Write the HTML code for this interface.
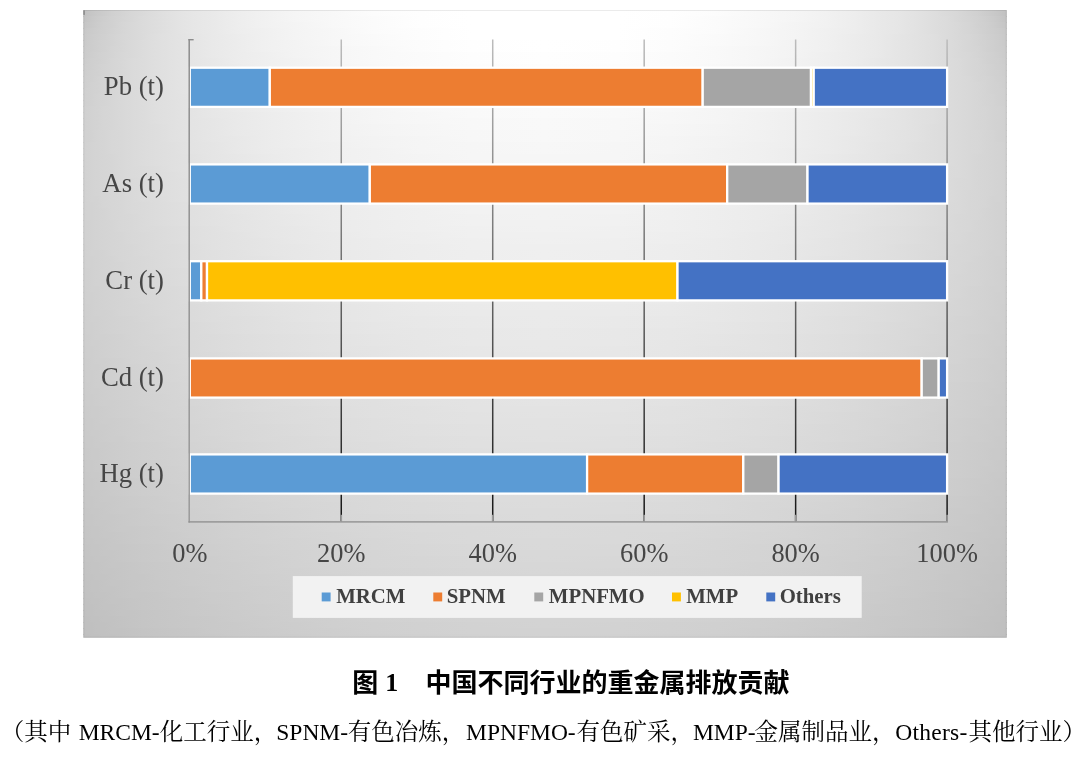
<!DOCTYPE html>
<html lang="zh"><head><meta charset="utf-8"><title>图1 中国不同行业的重金属排放贡献</title>
<style>
html,body{margin:0;padding:0;background:#fff;}
body{width:1080px;height:782px;overflow:hidden;position:relative;}
svg{position:absolute;left:0;top:0;display:block;}
.ser{font-family:"Liberation Serif","Noto Serif CJK SC",serif;}
.cat{font-size:26.7px;fill:#464646;text-anchor:end;}
.tick{font-size:26.4px;fill:#464646;text-anchor:middle;}
.leg{font-size:20.8px;font-weight:bold;fill:#404040;}
.ttl{position:absolute;white-space:nowrap;color:#000;}
#wrap{position:absolute;left:0;top:0;width:1080px;height:782px;will-change:transform;}
</style></head><body><div id="wrap">
<svg width="1080" height="782" viewBox="0 0 1080 782">
<defs>
<linearGradient id="b0" gradientUnits="userSpaceOnUse" x1="83.3" y1="0" x2="545.05" y2="0" spreadMethod="reflect"><stop offset="0" stop-color="#c1c1c1"/><stop offset="0.008" stop-color="#c3c3c3"/><stop offset="0.018" stop-color="#c6c6c6"/><stop offset="0.03" stop-color="#c9c9c9"/><stop offset="0.045" stop-color="#cccccc"/><stop offset="0.062" stop-color="#d0d0d0"/><stop offset="0.082" stop-color="#d3d3d3"/><stop offset="0.105" stop-color="#d7d7d7"/><stop offset="0.13" stop-color="#dadada"/><stop offset="0.16" stop-color="#dedede"/><stop offset="0.195" stop-color="#e2e2e2"/><stop offset="0.235" stop-color="#e6e6e6"/><stop offset="0.28" stop-color="#e9e9e9"/><stop offset="0.33" stop-color="#ededed"/><stop offset="0.39" stop-color="#f1f1f1"/><stop offset="0.46" stop-color="#f5f5f5"/><stop offset="0.54" stop-color="#f8f8f8"/><stop offset="0.63" stop-color="#fcfcfc"/><stop offset="0.73" stop-color="#fefefe"/><stop offset="0.84" stop-color="#ffffff"/><stop offset="1" stop-color="#ffffff"/></linearGradient>
<linearGradient id="b1" gradientUnits="userSpaceOnUse" x1="83.3" y1="0" x2="545.05" y2="0" spreadMethod="reflect"><stop offset="0" stop-color="#c3c3c3"/><stop offset="0.008" stop-color="#c5c5c5"/><stop offset="0.018" stop-color="#c8c8c8"/><stop offset="0.03" stop-color="#cbcbcb"/><stop offset="0.045" stop-color="#cecece"/><stop offset="0.062" stop-color="#d1d1d1"/><stop offset="0.082" stop-color="#d4d4d4"/><stop offset="0.105" stop-color="#d7d7d7"/><stop offset="0.13" stop-color="#dbdbdb"/><stop offset="0.16" stop-color="#dedede"/><stop offset="0.195" stop-color="#e2e2e2"/><stop offset="0.235" stop-color="#e6e6e6"/><stop offset="0.28" stop-color="#e9e9e9"/><stop offset="0.33" stop-color="#ededed"/><stop offset="0.39" stop-color="#f1f1f1"/><stop offset="0.46" stop-color="#f5f5f5"/><stop offset="0.54" stop-color="#f8f8f8"/><stop offset="0.63" stop-color="#fbfbfb"/><stop offset="0.73" stop-color="#fefefe"/><stop offset="0.84" stop-color="#ffffff"/><stop offset="1" stop-color="#ffffff"/></linearGradient>
<linearGradient id="b2" gradientUnits="userSpaceOnUse" x1="83.3" y1="0" x2="545.05" y2="0" spreadMethod="reflect"><stop offset="0" stop-color="#c5c5c5"/><stop offset="0.008" stop-color="#c7c7c7"/><stop offset="0.018" stop-color="#c9c9c9"/><stop offset="0.03" stop-color="#cccccc"/><stop offset="0.045" stop-color="#cfcfcf"/><stop offset="0.062" stop-color="#d1d1d1"/><stop offset="0.082" stop-color="#d5d5d5"/><stop offset="0.105" stop-color="#d8d8d8"/><stop offset="0.13" stop-color="#dbdbdb"/><stop offset="0.16" stop-color="#dedede"/><stop offset="0.195" stop-color="#e2e2e2"/><stop offset="0.235" stop-color="#e6e6e6"/><stop offset="0.28" stop-color="#e9e9e9"/><stop offset="0.33" stop-color="#ededed"/><stop offset="0.39" stop-color="#f1f1f1"/><stop offset="0.46" stop-color="#f4f4f4"/><stop offset="0.54" stop-color="#f8f8f8"/><stop offset="0.63" stop-color="#fbfbfb"/><stop offset="0.73" stop-color="#fefefe"/><stop offset="0.84" stop-color="#ffffff"/><stop offset="1" stop-color="#ffffff"/></linearGradient>
<linearGradient id="b3" gradientUnits="userSpaceOnUse" x1="83.3" y1="0" x2="545.05" y2="0" spreadMethod="reflect"><stop offset="0" stop-color="#c7c7c7"/><stop offset="0.008" stop-color="#c9c9c9"/><stop offset="0.018" stop-color="#cbcbcb"/><stop offset="0.03" stop-color="#cdcdcd"/><stop offset="0.045" stop-color="#cfcfcf"/><stop offset="0.062" stop-color="#d2d2d2"/><stop offset="0.082" stop-color="#d5d5d5"/><stop offset="0.105" stop-color="#d8d8d8"/><stop offset="0.13" stop-color="#dbdbdb"/><stop offset="0.16" stop-color="#dedede"/><stop offset="0.195" stop-color="#e2e2e2"/><stop offset="0.235" stop-color="#e6e6e6"/><stop offset="0.28" stop-color="#e9e9e9"/><stop offset="0.33" stop-color="#ededed"/><stop offset="0.39" stop-color="#f0f0f0"/><stop offset="0.46" stop-color="#f4f4f4"/><stop offset="0.54" stop-color="#f7f7f7"/><stop offset="0.63" stop-color="#fbfbfb"/><stop offset="0.73" stop-color="#fdfdfd"/><stop offset="0.84" stop-color="#ffffff"/><stop offset="1" stop-color="#ffffff"/></linearGradient>
<linearGradient id="b4" gradientUnits="userSpaceOnUse" x1="83.3" y1="0" x2="545.05" y2="0" spreadMethod="reflect"><stop offset="0" stop-color="#c8c8c8"/><stop offset="0.008" stop-color="#cacaca"/><stop offset="0.018" stop-color="#cccccc"/><stop offset="0.03" stop-color="#cecece"/><stop offset="0.045" stop-color="#d0d0d0"/><stop offset="0.062" stop-color="#d3d3d3"/><stop offset="0.082" stop-color="#d6d6d6"/><stop offset="0.105" stop-color="#d8d8d8"/><stop offset="0.13" stop-color="#dbdbdb"/><stop offset="0.16" stop-color="#dfdfdf"/><stop offset="0.195" stop-color="#e2e2e2"/><stop offset="0.235" stop-color="#e5e5e5"/><stop offset="0.28" stop-color="#e9e9e9"/><stop offset="0.33" stop-color="#ececec"/><stop offset="0.39" stop-color="#f0f0f0"/><stop offset="0.46" stop-color="#f4f4f4"/><stop offset="0.54" stop-color="#f7f7f7"/><stop offset="0.63" stop-color="#fafafa"/><stop offset="0.73" stop-color="#fdfdfd"/><stop offset="0.84" stop-color="#ffffff"/><stop offset="1" stop-color="#ffffff"/></linearGradient>
<linearGradient id="b5" gradientUnits="userSpaceOnUse" x1="83.3" y1="0" x2="545.05" y2="0" spreadMethod="reflect"><stop offset="0" stop-color="#c9c9c9"/><stop offset="0.008" stop-color="#cbcbcb"/><stop offset="0.018" stop-color="#cdcdcd"/><stop offset="0.03" stop-color="#cfcfcf"/><stop offset="0.045" stop-color="#d1d1d1"/><stop offset="0.062" stop-color="#d3d3d3"/><stop offset="0.082" stop-color="#d6d6d6"/><stop offset="0.105" stop-color="#d9d9d9"/><stop offset="0.13" stop-color="#dcdcdc"/><stop offset="0.16" stop-color="#dfdfdf"/><stop offset="0.195" stop-color="#e2e2e2"/><stop offset="0.235" stop-color="#e5e5e5"/><stop offset="0.28" stop-color="#e9e9e9"/><stop offset="0.33" stop-color="#ececec"/><stop offset="0.39" stop-color="#f0f0f0"/><stop offset="0.46" stop-color="#f3f3f3"/><stop offset="0.54" stop-color="#f7f7f7"/><stop offset="0.63" stop-color="#fafafa"/><stop offset="0.73" stop-color="#fcfcfc"/><stop offset="0.84" stop-color="#fefefe"/><stop offset="1" stop-color="#ffffff"/></linearGradient>
<linearGradient id="b6" gradientUnits="userSpaceOnUse" x1="83.3" y1="0" x2="545.05" y2="0" spreadMethod="reflect"><stop offset="0" stop-color="#cacaca"/><stop offset="0.008" stop-color="#cccccc"/><stop offset="0.018" stop-color="#cdcdcd"/><stop offset="0.03" stop-color="#cfcfcf"/><stop offset="0.045" stop-color="#d1d1d1"/><stop offset="0.062" stop-color="#d4d4d4"/><stop offset="0.082" stop-color="#d6d6d6"/><stop offset="0.105" stop-color="#d9d9d9"/><stop offset="0.13" stop-color="#dcdcdc"/><stop offset="0.16" stop-color="#dfdfdf"/><stop offset="0.195" stop-color="#e2e2e2"/><stop offset="0.235" stop-color="#e5e5e5"/><stop offset="0.28" stop-color="#e9e9e9"/><stop offset="0.33" stop-color="#ececec"/><stop offset="0.39" stop-color="#f0f0f0"/><stop offset="0.46" stop-color="#f3f3f3"/><stop offset="0.54" stop-color="#f6f6f6"/><stop offset="0.63" stop-color="#f9f9f9"/><stop offset="0.73" stop-color="#fcfcfc"/><stop offset="0.84" stop-color="#fefefe"/><stop offset="1" stop-color="#ffffff"/></linearGradient>
<linearGradient id="b7" gradientUnits="userSpaceOnUse" x1="83.3" y1="0" x2="545.05" y2="0" spreadMethod="reflect"><stop offset="0" stop-color="#cbcbcb"/><stop offset="0.008" stop-color="#cccccc"/><stop offset="0.018" stop-color="#cecece"/><stop offset="0.03" stop-color="#d0d0d0"/><stop offset="0.045" stop-color="#d2d2d2"/><stop offset="0.062" stop-color="#d4d4d4"/><stop offset="0.082" stop-color="#d7d7d7"/><stop offset="0.105" stop-color="#d9d9d9"/><stop offset="0.13" stop-color="#dcdcdc"/><stop offset="0.16" stop-color="#dfdfdf"/><stop offset="0.195" stop-color="#e2e2e2"/><stop offset="0.235" stop-color="#e5e5e5"/><stop offset="0.28" stop-color="#e9e9e9"/><stop offset="0.33" stop-color="#ececec"/><stop offset="0.39" stop-color="#efefef"/><stop offset="0.46" stop-color="#f3f3f3"/><stop offset="0.54" stop-color="#f6f6f6"/><stop offset="0.63" stop-color="#f9f9f9"/><stop offset="0.73" stop-color="#fbfbfb"/><stop offset="0.84" stop-color="#fdfdfd"/><stop offset="1" stop-color="#fefefe"/></linearGradient>
<linearGradient id="b8" gradientUnits="userSpaceOnUse" x1="83.3" y1="0" x2="545.05" y2="0" spreadMethod="reflect"><stop offset="0" stop-color="#cccccc"/><stop offset="0.008" stop-color="#cdcdcd"/><stop offset="0.018" stop-color="#cfcfcf"/><stop offset="0.03" stop-color="#d0d0d0"/><stop offset="0.045" stop-color="#d2d2d2"/><stop offset="0.062" stop-color="#d5d5d5"/><stop offset="0.082" stop-color="#d7d7d7"/><stop offset="0.105" stop-color="#dadada"/><stop offset="0.13" stop-color="#dcdcdc"/><stop offset="0.16" stop-color="#dfdfdf"/><stop offset="0.195" stop-color="#e2e2e2"/><stop offset="0.235" stop-color="#e5e5e5"/><stop offset="0.28" stop-color="#e8e8e8"/><stop offset="0.33" stop-color="#ececec"/><stop offset="0.39" stop-color="#efefef"/><stop offset="0.46" stop-color="#f2f2f2"/><stop offset="0.54" stop-color="#f6f6f6"/><stop offset="0.63" stop-color="#f9f9f9"/><stop offset="0.73" stop-color="#fbfbfb"/><stop offset="0.84" stop-color="#fdfdfd"/><stop offset="1" stop-color="#fefefe"/></linearGradient>
<linearGradient id="b9" gradientUnits="userSpaceOnUse" x1="83.3" y1="0" x2="545.05" y2="0" spreadMethod="reflect"><stop offset="0" stop-color="#cdcdcd"/><stop offset="0.008" stop-color="#cecece"/><stop offset="0.018" stop-color="#cfcfcf"/><stop offset="0.03" stop-color="#d1d1d1"/><stop offset="0.045" stop-color="#d3d3d3"/><stop offset="0.062" stop-color="#d5d5d5"/><stop offset="0.082" stop-color="#d7d7d7"/><stop offset="0.105" stop-color="#dadada"/><stop offset="0.13" stop-color="#dcdcdc"/><stop offset="0.16" stop-color="#dfdfdf"/><stop offset="0.195" stop-color="#e2e2e2"/><stop offset="0.235" stop-color="#e5e5e5"/><stop offset="0.28" stop-color="#e8e8e8"/><stop offset="0.33" stop-color="#ebebeb"/><stop offset="0.39" stop-color="#efefef"/><stop offset="0.46" stop-color="#f2f2f2"/><stop offset="0.54" stop-color="#f5f5f5"/><stop offset="0.63" stop-color="#f8f8f8"/><stop offset="0.73" stop-color="#fbfbfb"/><stop offset="0.84" stop-color="#fcfcfc"/><stop offset="1" stop-color="#fdfdfd"/></linearGradient>
<linearGradient id="b10" gradientUnits="userSpaceOnUse" x1="83.3" y1="0" x2="545.05" y2="0" spreadMethod="reflect"><stop offset="0" stop-color="#cdcdcd"/><stop offset="0.008" stop-color="#cecece"/><stop offset="0.018" stop-color="#d0d0d0"/><stop offset="0.03" stop-color="#d1d1d1"/><stop offset="0.045" stop-color="#d3d3d3"/><stop offset="0.062" stop-color="#d5d5d5"/><stop offset="0.082" stop-color="#d7d7d7"/><stop offset="0.105" stop-color="#dadada"/><stop offset="0.13" stop-color="#dcdcdc"/><stop offset="0.16" stop-color="#dfdfdf"/><stop offset="0.195" stop-color="#e2e2e2"/><stop offset="0.235" stop-color="#e5e5e5"/><stop offset="0.28" stop-color="#e8e8e8"/><stop offset="0.33" stop-color="#ebebeb"/><stop offset="0.39" stop-color="#eeeeee"/><stop offset="0.46" stop-color="#f2f2f2"/><stop offset="0.54" stop-color="#f5f5f5"/><stop offset="0.63" stop-color="#f8f8f8"/><stop offset="0.73" stop-color="#fafafa"/><stop offset="0.84" stop-color="#fcfcfc"/><stop offset="1" stop-color="#fdfdfd"/></linearGradient>
<linearGradient id="b11" gradientUnits="userSpaceOnUse" x1="83.3" y1="0" x2="545.05" y2="0" spreadMethod="reflect"><stop offset="0" stop-color="#cecece"/><stop offset="0.008" stop-color="#cfcfcf"/><stop offset="0.018" stop-color="#d0d0d0"/><stop offset="0.03" stop-color="#d2d2d2"/><stop offset="0.045" stop-color="#d4d4d4"/><stop offset="0.062" stop-color="#d5d5d5"/><stop offset="0.082" stop-color="#d8d8d8"/><stop offset="0.105" stop-color="#dadada"/><stop offset="0.13" stop-color="#dcdcdc"/><stop offset="0.16" stop-color="#dfdfdf"/><stop offset="0.195" stop-color="#e2e2e2"/><stop offset="0.235" stop-color="#e5e5e5"/><stop offset="0.28" stop-color="#e8e8e8"/><stop offset="0.33" stop-color="#ebebeb"/><stop offset="0.39" stop-color="#eeeeee"/><stop offset="0.46" stop-color="#f1f1f1"/><stop offset="0.54" stop-color="#f5f5f5"/><stop offset="0.63" stop-color="#f7f7f7"/><stop offset="0.73" stop-color="#fafafa"/><stop offset="0.84" stop-color="#fbfbfb"/><stop offset="1" stop-color="#fcfcfc"/></linearGradient>
<linearGradient id="b12" gradientUnits="userSpaceOnUse" x1="83.3" y1="0" x2="545.05" y2="0" spreadMethod="reflect"><stop offset="0" stop-color="#cecece"/><stop offset="0.008" stop-color="#cfcfcf"/><stop offset="0.018" stop-color="#d1d1d1"/><stop offset="0.03" stop-color="#d2d2d2"/><stop offset="0.045" stop-color="#d4d4d4"/><stop offset="0.062" stop-color="#d6d6d6"/><stop offset="0.082" stop-color="#d8d8d8"/><stop offset="0.105" stop-color="#dadada"/><stop offset="0.13" stop-color="#dcdcdc"/><stop offset="0.16" stop-color="#dfdfdf"/><stop offset="0.195" stop-color="#e2e2e2"/><stop offset="0.235" stop-color="#e5e5e5"/><stop offset="0.28" stop-color="#e8e8e8"/><stop offset="0.33" stop-color="#ebebeb"/><stop offset="0.39" stop-color="#eeeeee"/><stop offset="0.46" stop-color="#f1f1f1"/><stop offset="0.54" stop-color="#f4f4f4"/><stop offset="0.63" stop-color="#f7f7f7"/><stop offset="0.73" stop-color="#f9f9f9"/><stop offset="0.84" stop-color="#fbfbfb"/><stop offset="1" stop-color="#fcfcfc"/></linearGradient>
<linearGradient id="b13" gradientUnits="userSpaceOnUse" x1="83.3" y1="0" x2="545.05" y2="0" spreadMethod="reflect"><stop offset="0" stop-color="#cfcfcf"/><stop offset="0.008" stop-color="#d0d0d0"/><stop offset="0.018" stop-color="#d1d1d1"/><stop offset="0.03" stop-color="#d2d2d2"/><stop offset="0.045" stop-color="#d4d4d4"/><stop offset="0.062" stop-color="#d6d6d6"/><stop offset="0.082" stop-color="#d8d8d8"/><stop offset="0.105" stop-color="#dadada"/><stop offset="0.13" stop-color="#dcdcdc"/><stop offset="0.16" stop-color="#dfdfdf"/><stop offset="0.195" stop-color="#e2e2e2"/><stop offset="0.235" stop-color="#e5e5e5"/><stop offset="0.28" stop-color="#e8e8e8"/><stop offset="0.33" stop-color="#eaeaea"/><stop offset="0.39" stop-color="#eeeeee"/><stop offset="0.46" stop-color="#f1f1f1"/><stop offset="0.54" stop-color="#f4f4f4"/><stop offset="0.63" stop-color="#f7f7f7"/><stop offset="0.73" stop-color="#f9f9f9"/><stop offset="0.84" stop-color="#fbfbfb"/><stop offset="1" stop-color="#fbfbfb"/></linearGradient>
<linearGradient id="b14" gradientUnits="userSpaceOnUse" x1="83.3" y1="0" x2="545.05" y2="0" spreadMethod="reflect"><stop offset="0" stop-color="#cfcfcf"/><stop offset="0.008" stop-color="#d0d0d0"/><stop offset="0.018" stop-color="#d1d1d1"/><stop offset="0.03" stop-color="#d3d3d3"/><stop offset="0.045" stop-color="#d4d4d4"/><stop offset="0.062" stop-color="#d6d6d6"/><stop offset="0.082" stop-color="#d8d8d8"/><stop offset="0.105" stop-color="#dadada"/><stop offset="0.13" stop-color="#dcdcdc"/><stop offset="0.16" stop-color="#dfdfdf"/><stop offset="0.195" stop-color="#e2e2e2"/><stop offset="0.235" stop-color="#e4e4e4"/><stop offset="0.28" stop-color="#e7e7e7"/><stop offset="0.33" stop-color="#eaeaea"/><stop offset="0.39" stop-color="#ededed"/><stop offset="0.46" stop-color="#f0f0f0"/><stop offset="0.54" stop-color="#f3f3f3"/><stop offset="0.63" stop-color="#f6f6f6"/><stop offset="0.73" stop-color="#f8f8f8"/><stop offset="0.84" stop-color="#fafafa"/><stop offset="1" stop-color="#fbfbfb"/></linearGradient>
<linearGradient id="b15" gradientUnits="userSpaceOnUse" x1="83.3" y1="0" x2="545.05" y2="0" spreadMethod="reflect"><stop offset="0" stop-color="#cfcfcf"/><stop offset="0.008" stop-color="#d0d0d0"/><stop offset="0.018" stop-color="#d1d1d1"/><stop offset="0.03" stop-color="#d3d3d3"/><stop offset="0.045" stop-color="#d4d4d4"/><stop offset="0.062" stop-color="#d6d6d6"/><stop offset="0.082" stop-color="#d8d8d8"/><stop offset="0.105" stop-color="#dadada"/><stop offset="0.13" stop-color="#dcdcdc"/><stop offset="0.16" stop-color="#dfdfdf"/><stop offset="0.195" stop-color="#e1e1e1"/><stop offset="0.235" stop-color="#e4e4e4"/><stop offset="0.28" stop-color="#e7e7e7"/><stop offset="0.33" stop-color="#eaeaea"/><stop offset="0.39" stop-color="#ededed"/><stop offset="0.46" stop-color="#f0f0f0"/><stop offset="0.54" stop-color="#f3f3f3"/><stop offset="0.63" stop-color="#f6f6f6"/><stop offset="0.73" stop-color="#f8f8f8"/><stop offset="0.84" stop-color="#fafafa"/><stop offset="1" stop-color="#fafafa"/></linearGradient>
<linearGradient id="b16" gradientUnits="userSpaceOnUse" x1="83.3" y1="0" x2="545.05" y2="0" spreadMethod="reflect"><stop offset="0" stop-color="#d0d0d0"/><stop offset="0.008" stop-color="#d1d1d1"/><stop offset="0.018" stop-color="#d2d2d2"/><stop offset="0.03" stop-color="#d3d3d3"/><stop offset="0.045" stop-color="#d5d5d5"/><stop offset="0.062" stop-color="#d6d6d6"/><stop offset="0.082" stop-color="#d8d8d8"/><stop offset="0.105" stop-color="#dadada"/><stop offset="0.13" stop-color="#dcdcdc"/><stop offset="0.16" stop-color="#dfdfdf"/><stop offset="0.195" stop-color="#e1e1e1"/><stop offset="0.235" stop-color="#e4e4e4"/><stop offset="0.28" stop-color="#e7e7e7"/><stop offset="0.33" stop-color="#eaeaea"/><stop offset="0.39" stop-color="#ededed"/><stop offset="0.46" stop-color="#f0f0f0"/><stop offset="0.54" stop-color="#f3f3f3"/><stop offset="0.63" stop-color="#f5f5f5"/><stop offset="0.73" stop-color="#f8f8f8"/><stop offset="0.84" stop-color="#f9f9f9"/><stop offset="1" stop-color="#fafafa"/></linearGradient>
<linearGradient id="b17" gradientUnits="userSpaceOnUse" x1="83.3" y1="0" x2="545.05" y2="0" spreadMethod="reflect"><stop offset="0" stop-color="#d0d0d0"/><stop offset="0.008" stop-color="#d1d1d1"/><stop offset="0.018" stop-color="#d2d2d2"/><stop offset="0.03" stop-color="#d3d3d3"/><stop offset="0.045" stop-color="#d5d5d5"/><stop offset="0.062" stop-color="#d6d6d6"/><stop offset="0.082" stop-color="#d8d8d8"/><stop offset="0.105" stop-color="#dadada"/><stop offset="0.13" stop-color="#dcdcdc"/><stop offset="0.16" stop-color="#dfdfdf"/><stop offset="0.195" stop-color="#e1e1e1"/><stop offset="0.235" stop-color="#e4e4e4"/><stop offset="0.28" stop-color="#e7e7e7"/><stop offset="0.33" stop-color="#e9e9e9"/><stop offset="0.39" stop-color="#ececec"/><stop offset="0.46" stop-color="#efefef"/><stop offset="0.54" stop-color="#f2f2f2"/><stop offset="0.63" stop-color="#f5f5f5"/><stop offset="0.73" stop-color="#f7f7f7"/><stop offset="0.84" stop-color="#f9f9f9"/><stop offset="1" stop-color="#fafafa"/></linearGradient>
<linearGradient id="b18" gradientUnits="userSpaceOnUse" x1="83.3" y1="0" x2="545.05" y2="0" spreadMethod="reflect"><stop offset="0" stop-color="#d0d0d0"/><stop offset="0.008" stop-color="#d1d1d1"/><stop offset="0.018" stop-color="#d2d2d2"/><stop offset="0.03" stop-color="#d3d3d3"/><stop offset="0.045" stop-color="#d5d5d5"/><stop offset="0.062" stop-color="#d6d6d6"/><stop offset="0.082" stop-color="#d8d8d8"/><stop offset="0.105" stop-color="#dadada"/><stop offset="0.13" stop-color="#dcdcdc"/><stop offset="0.16" stop-color="#dfdfdf"/><stop offset="0.195" stop-color="#e1e1e1"/><stop offset="0.235" stop-color="#e4e4e4"/><stop offset="0.28" stop-color="#e6e6e6"/><stop offset="0.33" stop-color="#e9e9e9"/><stop offset="0.39" stop-color="#ececec"/><stop offset="0.46" stop-color="#efefef"/><stop offset="0.54" stop-color="#f2f2f2"/><stop offset="0.63" stop-color="#f5f5f5"/><stop offset="0.73" stop-color="#f7f7f7"/><stop offset="0.84" stop-color="#f8f8f8"/><stop offset="1" stop-color="#f9f9f9"/></linearGradient>
<linearGradient id="b19" gradientUnits="userSpaceOnUse" x1="83.3" y1="0" x2="545.05" y2="0" spreadMethod="reflect"><stop offset="0" stop-color="#d0d0d0"/><stop offset="0.008" stop-color="#d1d1d1"/><stop offset="0.018" stop-color="#d2d2d2"/><stop offset="0.03" stop-color="#d3d3d3"/><stop offset="0.045" stop-color="#d5d5d5"/><stop offset="0.062" stop-color="#d6d6d6"/><stop offset="0.082" stop-color="#d8d8d8"/><stop offset="0.105" stop-color="#dadada"/><stop offset="0.13" stop-color="#dcdcdc"/><stop offset="0.16" stop-color="#dedede"/><stop offset="0.195" stop-color="#e1e1e1"/><stop offset="0.235" stop-color="#e4e4e4"/><stop offset="0.28" stop-color="#e6e6e6"/><stop offset="0.33" stop-color="#e9e9e9"/><stop offset="0.39" stop-color="#ececec"/><stop offset="0.46" stop-color="#efefef"/><stop offset="0.54" stop-color="#f2f2f2"/><stop offset="0.63" stop-color="#f4f4f4"/><stop offset="0.73" stop-color="#f6f6f6"/><stop offset="0.84" stop-color="#f8f8f8"/><stop offset="1" stop-color="#f9f9f9"/></linearGradient>
<linearGradient id="b20" gradientUnits="userSpaceOnUse" x1="83.3" y1="0" x2="545.05" y2="0" spreadMethod="reflect"><stop offset="0" stop-color="#d1d1d1"/><stop offset="0.008" stop-color="#d1d1d1"/><stop offset="0.018" stop-color="#d2d2d2"/><stop offset="0.03" stop-color="#d4d4d4"/><stop offset="0.045" stop-color="#d5d5d5"/><stop offset="0.062" stop-color="#d7d7d7"/><stop offset="0.082" stop-color="#d8d8d8"/><stop offset="0.105" stop-color="#dadada"/><stop offset="0.13" stop-color="#dcdcdc"/><stop offset="0.16" stop-color="#dedede"/><stop offset="0.195" stop-color="#e1e1e1"/><stop offset="0.235" stop-color="#e3e3e3"/><stop offset="0.28" stop-color="#e6e6e6"/><stop offset="0.33" stop-color="#e9e9e9"/><stop offset="0.39" stop-color="#ebebeb"/><stop offset="0.46" stop-color="#eeeeee"/><stop offset="0.54" stop-color="#f1f1f1"/><stop offset="0.63" stop-color="#f4f4f4"/><stop offset="0.73" stop-color="#f6f6f6"/><stop offset="0.84" stop-color="#f7f7f7"/><stop offset="1" stop-color="#f8f8f8"/></linearGradient>
<linearGradient id="b21" gradientUnits="userSpaceOnUse" x1="83.3" y1="0" x2="545.05" y2="0" spreadMethod="reflect"><stop offset="0" stop-color="#d1d1d1"/><stop offset="0.008" stop-color="#d1d1d1"/><stop offset="0.018" stop-color="#d2d2d2"/><stop offset="0.03" stop-color="#d4d4d4"/><stop offset="0.045" stop-color="#d5d5d5"/><stop offset="0.062" stop-color="#d7d7d7"/><stop offset="0.082" stop-color="#d8d8d8"/><stop offset="0.105" stop-color="#dadada"/><stop offset="0.13" stop-color="#dcdcdc"/><stop offset="0.16" stop-color="#dedede"/><stop offset="0.195" stop-color="#e1e1e1"/><stop offset="0.235" stop-color="#e3e3e3"/><stop offset="0.28" stop-color="#e6e6e6"/><stop offset="0.33" stop-color="#e8e8e8"/><stop offset="0.39" stop-color="#ebebeb"/><stop offset="0.46" stop-color="#eeeeee"/><stop offset="0.54" stop-color="#f1f1f1"/><stop offset="0.63" stop-color="#f3f3f3"/><stop offset="0.73" stop-color="#f5f5f5"/><stop offset="0.84" stop-color="#f7f7f7"/><stop offset="1" stop-color="#f8f8f8"/></linearGradient>
<linearGradient id="b22" gradientUnits="userSpaceOnUse" x1="83.3" y1="0" x2="545.05" y2="0" spreadMethod="reflect"><stop offset="0" stop-color="#d1d1d1"/><stop offset="0.008" stop-color="#d2d2d2"/><stop offset="0.018" stop-color="#d3d3d3"/><stop offset="0.03" stop-color="#d4d4d4"/><stop offset="0.045" stop-color="#d5d5d5"/><stop offset="0.062" stop-color="#d7d7d7"/><stop offset="0.082" stop-color="#d8d8d8"/><stop offset="0.105" stop-color="#dadada"/><stop offset="0.13" stop-color="#dcdcdc"/><stop offset="0.16" stop-color="#dedede"/><stop offset="0.195" stop-color="#e0e0e0"/><stop offset="0.235" stop-color="#e3e3e3"/><stop offset="0.28" stop-color="#e5e5e5"/><stop offset="0.33" stop-color="#e8e8e8"/><stop offset="0.39" stop-color="#ebebeb"/><stop offset="0.46" stop-color="#eeeeee"/><stop offset="0.54" stop-color="#f0f0f0"/><stop offset="0.63" stop-color="#f3f3f3"/><stop offset="0.73" stop-color="#f5f5f5"/><stop offset="0.84" stop-color="#f6f6f6"/><stop offset="1" stop-color="#f7f7f7"/></linearGradient>
<linearGradient id="b23" gradientUnits="userSpaceOnUse" x1="83.3" y1="0" x2="545.05" y2="0" spreadMethod="reflect"><stop offset="0" stop-color="#d1d1d1"/><stop offset="0.008" stop-color="#d2d2d2"/><stop offset="0.018" stop-color="#d3d3d3"/><stop offset="0.03" stop-color="#d4d4d4"/><stop offset="0.045" stop-color="#d5d5d5"/><stop offset="0.062" stop-color="#d7d7d7"/><stop offset="0.082" stop-color="#d8d8d8"/><stop offset="0.105" stop-color="#dadada"/><stop offset="0.13" stop-color="#dcdcdc"/><stop offset="0.16" stop-color="#dedede"/><stop offset="0.195" stop-color="#e0e0e0"/><stop offset="0.235" stop-color="#e3e3e3"/><stop offset="0.28" stop-color="#e5e5e5"/><stop offset="0.33" stop-color="#e8e8e8"/><stop offset="0.39" stop-color="#ebebeb"/><stop offset="0.46" stop-color="#ededed"/><stop offset="0.54" stop-color="#f0f0f0"/><stop offset="0.63" stop-color="#f2f2f2"/><stop offset="0.73" stop-color="#f5f5f5"/><stop offset="0.84" stop-color="#f6f6f6"/><stop offset="1" stop-color="#f7f7f7"/></linearGradient>
<linearGradient id="b24" gradientUnits="userSpaceOnUse" x1="83.3" y1="0" x2="545.05" y2="0" spreadMethod="reflect"><stop offset="0" stop-color="#d1d1d1"/><stop offset="0.008" stop-color="#d2d2d2"/><stop offset="0.018" stop-color="#d3d3d3"/><stop offset="0.03" stop-color="#d4d4d4"/><stop offset="0.045" stop-color="#d5d5d5"/><stop offset="0.062" stop-color="#d6d6d6"/><stop offset="0.082" stop-color="#d8d8d8"/><stop offset="0.105" stop-color="#dadada"/><stop offset="0.13" stop-color="#dcdcdc"/><stop offset="0.16" stop-color="#dedede"/><stop offset="0.195" stop-color="#e0e0e0"/><stop offset="0.235" stop-color="#e2e2e2"/><stop offset="0.28" stop-color="#e5e5e5"/><stop offset="0.33" stop-color="#e7e7e7"/><stop offset="0.39" stop-color="#eaeaea"/><stop offset="0.46" stop-color="#ededed"/><stop offset="0.54" stop-color="#f0f0f0"/><stop offset="0.63" stop-color="#f2f2f2"/><stop offset="0.73" stop-color="#f4f4f4"/><stop offset="0.84" stop-color="#f6f6f6"/><stop offset="1" stop-color="#f6f6f6"/></linearGradient>
<linearGradient id="b25" gradientUnits="userSpaceOnUse" x1="83.3" y1="0" x2="545.05" y2="0" spreadMethod="reflect"><stop offset="0" stop-color="#d1d1d1"/><stop offset="0.008" stop-color="#d2d2d2"/><stop offset="0.018" stop-color="#d3d3d3"/><stop offset="0.03" stop-color="#d4d4d4"/><stop offset="0.045" stop-color="#d5d5d5"/><stop offset="0.062" stop-color="#d6d6d6"/><stop offset="0.082" stop-color="#d8d8d8"/><stop offset="0.105" stop-color="#dadada"/><stop offset="0.13" stop-color="#dcdcdc"/><stop offset="0.16" stop-color="#dedede"/><stop offset="0.195" stop-color="#e0e0e0"/><stop offset="0.235" stop-color="#e2e2e2"/><stop offset="0.28" stop-color="#e5e5e5"/><stop offset="0.33" stop-color="#e7e7e7"/><stop offset="0.39" stop-color="#eaeaea"/><stop offset="0.46" stop-color="#ededed"/><stop offset="0.54" stop-color="#efefef"/><stop offset="0.63" stop-color="#f2f2f2"/><stop offset="0.73" stop-color="#f4f4f4"/><stop offset="0.84" stop-color="#f5f5f5"/><stop offset="1" stop-color="#f6f6f6"/></linearGradient>
<linearGradient id="b26" gradientUnits="userSpaceOnUse" x1="83.3" y1="0" x2="545.05" y2="0" spreadMethod="reflect"><stop offset="0" stop-color="#d1d1d1"/><stop offset="0.008" stop-color="#d2d2d2"/><stop offset="0.018" stop-color="#d3d3d3"/><stop offset="0.03" stop-color="#d4d4d4"/><stop offset="0.045" stop-color="#d5d5d5"/><stop offset="0.062" stop-color="#d6d6d6"/><stop offset="0.082" stop-color="#d8d8d8"/><stop offset="0.105" stop-color="#dadada"/><stop offset="0.13" stop-color="#dbdbdb"/><stop offset="0.16" stop-color="#dddddd"/><stop offset="0.195" stop-color="#e0e0e0"/><stop offset="0.235" stop-color="#e2e2e2"/><stop offset="0.28" stop-color="#e4e4e4"/><stop offset="0.33" stop-color="#e7e7e7"/><stop offset="0.39" stop-color="#eaeaea"/><stop offset="0.46" stop-color="#ececec"/><stop offset="0.54" stop-color="#efefef"/><stop offset="0.63" stop-color="#f1f1f1"/><stop offset="0.73" stop-color="#f3f3f3"/><stop offset="0.84" stop-color="#f5f5f5"/><stop offset="1" stop-color="#f5f5f5"/></linearGradient>
<linearGradient id="b27" gradientUnits="userSpaceOnUse" x1="83.3" y1="0" x2="545.05" y2="0" spreadMethod="reflect"><stop offset="0" stop-color="#d1d1d1"/><stop offset="0.008" stop-color="#d2d2d2"/><stop offset="0.018" stop-color="#d3d3d3"/><stop offset="0.03" stop-color="#d4d4d4"/><stop offset="0.045" stop-color="#d5d5d5"/><stop offset="0.062" stop-color="#d6d6d6"/><stop offset="0.082" stop-color="#d8d8d8"/><stop offset="0.105" stop-color="#dadada"/><stop offset="0.13" stop-color="#dbdbdb"/><stop offset="0.16" stop-color="#dddddd"/><stop offset="0.195" stop-color="#dfdfdf"/><stop offset="0.235" stop-color="#e2e2e2"/><stop offset="0.28" stop-color="#e4e4e4"/><stop offset="0.33" stop-color="#e7e7e7"/><stop offset="0.39" stop-color="#e9e9e9"/><stop offset="0.46" stop-color="#ececec"/><stop offset="0.54" stop-color="#eeeeee"/><stop offset="0.63" stop-color="#f1f1f1"/><stop offset="0.73" stop-color="#f3f3f3"/><stop offset="0.84" stop-color="#f4f4f4"/><stop offset="1" stop-color="#f5f5f5"/></linearGradient>
<linearGradient id="b28" gradientUnits="userSpaceOnUse" x1="83.3" y1="0" x2="545.05" y2="0" spreadMethod="reflect"><stop offset="0" stop-color="#d1d1d1"/><stop offset="0.008" stop-color="#d2d2d2"/><stop offset="0.018" stop-color="#d3d3d3"/><stop offset="0.03" stop-color="#d4d4d4"/><stop offset="0.045" stop-color="#d5d5d5"/><stop offset="0.062" stop-color="#d6d6d6"/><stop offset="0.082" stop-color="#d8d8d8"/><stop offset="0.105" stop-color="#d9d9d9"/><stop offset="0.13" stop-color="#dbdbdb"/><stop offset="0.16" stop-color="#dddddd"/><stop offset="0.195" stop-color="#dfdfdf"/><stop offset="0.235" stop-color="#e1e1e1"/><stop offset="0.28" stop-color="#e4e4e4"/><stop offset="0.33" stop-color="#e6e6e6"/><stop offset="0.39" stop-color="#e9e9e9"/><stop offset="0.46" stop-color="#ebebeb"/><stop offset="0.54" stop-color="#eeeeee"/><stop offset="0.63" stop-color="#f0f0f0"/><stop offset="0.73" stop-color="#f2f2f2"/><stop offset="0.84" stop-color="#f4f4f4"/><stop offset="1" stop-color="#f5f5f5"/></linearGradient>
<linearGradient id="b29" gradientUnits="userSpaceOnUse" x1="83.3" y1="0" x2="545.05" y2="0" spreadMethod="reflect"><stop offset="0" stop-color="#d1d1d1"/><stop offset="0.008" stop-color="#d2d2d2"/><stop offset="0.018" stop-color="#d3d3d3"/><stop offset="0.03" stop-color="#d4d4d4"/><stop offset="0.045" stop-color="#d5d5d5"/><stop offset="0.062" stop-color="#d6d6d6"/><stop offset="0.082" stop-color="#d8d8d8"/><stop offset="0.105" stop-color="#d9d9d9"/><stop offset="0.13" stop-color="#dbdbdb"/><stop offset="0.16" stop-color="#dddddd"/><stop offset="0.195" stop-color="#dfdfdf"/><stop offset="0.235" stop-color="#e1e1e1"/><stop offset="0.28" stop-color="#e4e4e4"/><stop offset="0.33" stop-color="#e6e6e6"/><stop offset="0.39" stop-color="#e8e8e8"/><stop offset="0.46" stop-color="#ebebeb"/><stop offset="0.54" stop-color="#eeeeee"/><stop offset="0.63" stop-color="#f0f0f0"/><stop offset="0.73" stop-color="#f2f2f2"/><stop offset="0.84" stop-color="#f3f3f3"/><stop offset="1" stop-color="#f4f4f4"/></linearGradient>
<linearGradient id="b30" gradientUnits="userSpaceOnUse" x1="83.3" y1="0" x2="545.05" y2="0" spreadMethod="reflect"><stop offset="0" stop-color="#d1d1d1"/><stop offset="0.008" stop-color="#d2d2d2"/><stop offset="0.018" stop-color="#d3d3d3"/><stop offset="0.03" stop-color="#d4d4d4"/><stop offset="0.045" stop-color="#d5d5d5"/><stop offset="0.062" stop-color="#d6d6d6"/><stop offset="0.082" stop-color="#d7d7d7"/><stop offset="0.105" stop-color="#d9d9d9"/><stop offset="0.13" stop-color="#dbdbdb"/><stop offset="0.16" stop-color="#dddddd"/><stop offset="0.195" stop-color="#dfdfdf"/><stop offset="0.235" stop-color="#e1e1e1"/><stop offset="0.28" stop-color="#e3e3e3"/><stop offset="0.33" stop-color="#e6e6e6"/><stop offset="0.39" stop-color="#e8e8e8"/><stop offset="0.46" stop-color="#ebebeb"/><stop offset="0.54" stop-color="#ededed"/><stop offset="0.63" stop-color="#f0f0f0"/><stop offset="0.73" stop-color="#f1f1f1"/><stop offset="0.84" stop-color="#f3f3f3"/><stop offset="1" stop-color="#f4f4f4"/></linearGradient>
<linearGradient id="b31" gradientUnits="userSpaceOnUse" x1="83.3" y1="0" x2="545.05" y2="0" spreadMethod="reflect"><stop offset="0" stop-color="#d1d1d1"/><stop offset="0.008" stop-color="#d2d2d2"/><stop offset="0.018" stop-color="#d3d3d3"/><stop offset="0.03" stop-color="#d3d3d3"/><stop offset="0.045" stop-color="#d5d5d5"/><stop offset="0.062" stop-color="#d6d6d6"/><stop offset="0.082" stop-color="#d7d7d7"/><stop offset="0.105" stop-color="#d9d9d9"/><stop offset="0.13" stop-color="#dbdbdb"/><stop offset="0.16" stop-color="#dcdcdc"/><stop offset="0.195" stop-color="#dfdfdf"/><stop offset="0.235" stop-color="#e1e1e1"/><stop offset="0.28" stop-color="#e3e3e3"/><stop offset="0.33" stop-color="#e5e5e5"/><stop offset="0.39" stop-color="#e8e8e8"/><stop offset="0.46" stop-color="#eaeaea"/><stop offset="0.54" stop-color="#ededed"/><stop offset="0.63" stop-color="#efefef"/><stop offset="0.73" stop-color="#f1f1f1"/><stop offset="0.84" stop-color="#f2f2f2"/><stop offset="1" stop-color="#f3f3f3"/></linearGradient>
<linearGradient id="b32" gradientUnits="userSpaceOnUse" x1="83.3" y1="0" x2="545.05" y2="0" spreadMethod="reflect"><stop offset="0" stop-color="#d1d1d1"/><stop offset="0.008" stop-color="#d2d2d2"/><stop offset="0.018" stop-color="#d2d2d2"/><stop offset="0.03" stop-color="#d3d3d3"/><stop offset="0.045" stop-color="#d5d5d5"/><stop offset="0.062" stop-color="#d6d6d6"/><stop offset="0.082" stop-color="#d7d7d7"/><stop offset="0.105" stop-color="#d9d9d9"/><stop offset="0.13" stop-color="#dadada"/><stop offset="0.16" stop-color="#dcdcdc"/><stop offset="0.195" stop-color="#dedede"/><stop offset="0.235" stop-color="#e0e0e0"/><stop offset="0.28" stop-color="#e3e3e3"/><stop offset="0.33" stop-color="#e5e5e5"/><stop offset="0.39" stop-color="#e7e7e7"/><stop offset="0.46" stop-color="#eaeaea"/><stop offset="0.54" stop-color="#ececec"/><stop offset="0.63" stop-color="#efefef"/><stop offset="0.73" stop-color="#f1f1f1"/><stop offset="0.84" stop-color="#f2f2f2"/><stop offset="1" stop-color="#f3f3f3"/></linearGradient>
<linearGradient id="b33" gradientUnits="userSpaceOnUse" x1="83.3" y1="0" x2="545.05" y2="0" spreadMethod="reflect"><stop offset="0" stop-color="#d1d1d1"/><stop offset="0.008" stop-color="#d2d2d2"/><stop offset="0.018" stop-color="#d2d2d2"/><stop offset="0.03" stop-color="#d3d3d3"/><stop offset="0.045" stop-color="#d4d4d4"/><stop offset="0.062" stop-color="#d6d6d6"/><stop offset="0.082" stop-color="#d7d7d7"/><stop offset="0.105" stop-color="#d9d9d9"/><stop offset="0.13" stop-color="#dadada"/><stop offset="0.16" stop-color="#dcdcdc"/><stop offset="0.195" stop-color="#dedede"/><stop offset="0.235" stop-color="#e0e0e0"/><stop offset="0.28" stop-color="#e2e2e2"/><stop offset="0.33" stop-color="#e5e5e5"/><stop offset="0.39" stop-color="#e7e7e7"/><stop offset="0.46" stop-color="#eaeaea"/><stop offset="0.54" stop-color="#ececec"/><stop offset="0.63" stop-color="#eeeeee"/><stop offset="0.73" stop-color="#f0f0f0"/><stop offset="0.84" stop-color="#f2f2f2"/><stop offset="1" stop-color="#f2f2f2"/></linearGradient>
<linearGradient id="b34" gradientUnits="userSpaceOnUse" x1="83.3" y1="0" x2="545.05" y2="0" spreadMethod="reflect"><stop offset="0" stop-color="#d1d1d1"/><stop offset="0.008" stop-color="#d2d2d2"/><stop offset="0.018" stop-color="#d2d2d2"/><stop offset="0.03" stop-color="#d3d3d3"/><stop offset="0.045" stop-color="#d4d4d4"/><stop offset="0.062" stop-color="#d6d6d6"/><stop offset="0.082" stop-color="#d7d7d7"/><stop offset="0.105" stop-color="#d8d8d8"/><stop offset="0.13" stop-color="#dadada"/><stop offset="0.16" stop-color="#dcdcdc"/><stop offset="0.195" stop-color="#dedede"/><stop offset="0.235" stop-color="#e0e0e0"/><stop offset="0.28" stop-color="#e2e2e2"/><stop offset="0.33" stop-color="#e4e4e4"/><stop offset="0.39" stop-color="#e7e7e7"/><stop offset="0.46" stop-color="#e9e9e9"/><stop offset="0.54" stop-color="#ececec"/><stop offset="0.63" stop-color="#eeeeee"/><stop offset="0.73" stop-color="#f0f0f0"/><stop offset="0.84" stop-color="#f1f1f1"/><stop offset="1" stop-color="#f2f2f2"/></linearGradient>
<linearGradient id="b35" gradientUnits="userSpaceOnUse" x1="83.3" y1="0" x2="545.05" y2="0" spreadMethod="reflect"><stop offset="0" stop-color="#d1d1d1"/><stop offset="0.008" stop-color="#d1d1d1"/><stop offset="0.018" stop-color="#d2d2d2"/><stop offset="0.03" stop-color="#d3d3d3"/><stop offset="0.045" stop-color="#d4d4d4"/><stop offset="0.062" stop-color="#d5d5d5"/><stop offset="0.082" stop-color="#d7d7d7"/><stop offset="0.105" stop-color="#d8d8d8"/><stop offset="0.13" stop-color="#dadada"/><stop offset="0.16" stop-color="#dcdcdc"/><stop offset="0.195" stop-color="#dedede"/><stop offset="0.235" stop-color="#e0e0e0"/><stop offset="0.28" stop-color="#e2e2e2"/><stop offset="0.33" stop-color="#e4e4e4"/><stop offset="0.39" stop-color="#e6e6e6"/><stop offset="0.46" stop-color="#e9e9e9"/><stop offset="0.54" stop-color="#ebebeb"/><stop offset="0.63" stop-color="#ededed"/><stop offset="0.73" stop-color="#efefef"/><stop offset="0.84" stop-color="#f1f1f1"/><stop offset="1" stop-color="#f1f1f1"/></linearGradient>
<linearGradient id="b36" gradientUnits="userSpaceOnUse" x1="83.3" y1="0" x2="545.05" y2="0" spreadMethod="reflect"><stop offset="0" stop-color="#d1d1d1"/><stop offset="0.008" stop-color="#d1d1d1"/><stop offset="0.018" stop-color="#d2d2d2"/><stop offset="0.03" stop-color="#d3d3d3"/><stop offset="0.045" stop-color="#d4d4d4"/><stop offset="0.062" stop-color="#d5d5d5"/><stop offset="0.082" stop-color="#d7d7d7"/><stop offset="0.105" stop-color="#d8d8d8"/><stop offset="0.13" stop-color="#dadada"/><stop offset="0.16" stop-color="#dbdbdb"/><stop offset="0.195" stop-color="#dddddd"/><stop offset="0.235" stop-color="#dfdfdf"/><stop offset="0.28" stop-color="#e1e1e1"/><stop offset="0.33" stop-color="#e4e4e4"/><stop offset="0.39" stop-color="#e6e6e6"/><stop offset="0.46" stop-color="#e8e8e8"/><stop offset="0.54" stop-color="#ebebeb"/><stop offset="0.63" stop-color="#ededed"/><stop offset="0.73" stop-color="#efefef"/><stop offset="0.84" stop-color="#f0f0f0"/><stop offset="1" stop-color="#f1f1f1"/></linearGradient>
<linearGradient id="b37" gradientUnits="userSpaceOnUse" x1="83.3" y1="0" x2="545.05" y2="0" spreadMethod="reflect"><stop offset="0" stop-color="#d1d1d1"/><stop offset="0.008" stop-color="#d1d1d1"/><stop offset="0.018" stop-color="#d2d2d2"/><stop offset="0.03" stop-color="#d3d3d3"/><stop offset="0.045" stop-color="#d4d4d4"/><stop offset="0.062" stop-color="#d5d5d5"/><stop offset="0.082" stop-color="#d6d6d6"/><stop offset="0.105" stop-color="#d8d8d8"/><stop offset="0.13" stop-color="#d9d9d9"/><stop offset="0.16" stop-color="#dbdbdb"/><stop offset="0.195" stop-color="#dddddd"/><stop offset="0.235" stop-color="#dfdfdf"/><stop offset="0.28" stop-color="#e1e1e1"/><stop offset="0.33" stop-color="#e3e3e3"/><stop offset="0.39" stop-color="#e6e6e6"/><stop offset="0.46" stop-color="#e8e8e8"/><stop offset="0.54" stop-color="#eaeaea"/><stop offset="0.63" stop-color="#ededed"/><stop offset="0.73" stop-color="#eeeeee"/><stop offset="0.84" stop-color="#f0f0f0"/><stop offset="1" stop-color="#f0f0f0"/></linearGradient>
<linearGradient id="b38" gradientUnits="userSpaceOnUse" x1="83.3" y1="0" x2="545.05" y2="0" spreadMethod="reflect"><stop offset="0" stop-color="#d1d1d1"/><stop offset="0.008" stop-color="#d1d1d1"/><stop offset="0.018" stop-color="#d2d2d2"/><stop offset="0.03" stop-color="#d3d3d3"/><stop offset="0.045" stop-color="#d4d4d4"/><stop offset="0.062" stop-color="#d5d5d5"/><stop offset="0.082" stop-color="#d6d6d6"/><stop offset="0.105" stop-color="#d8d8d8"/><stop offset="0.13" stop-color="#d9d9d9"/><stop offset="0.16" stop-color="#dbdbdb"/><stop offset="0.195" stop-color="#dddddd"/><stop offset="0.235" stop-color="#dfdfdf"/><stop offset="0.28" stop-color="#e1e1e1"/><stop offset="0.33" stop-color="#e3e3e3"/><stop offset="0.39" stop-color="#e5e5e5"/><stop offset="0.46" stop-color="#e8e8e8"/><stop offset="0.54" stop-color="#eaeaea"/><stop offset="0.63" stop-color="#ececec"/><stop offset="0.73" stop-color="#eeeeee"/><stop offset="0.84" stop-color="#efefef"/><stop offset="1" stop-color="#f0f0f0"/></linearGradient>
<linearGradient id="b39" gradientUnits="userSpaceOnUse" x1="83.3" y1="0" x2="545.05" y2="0" spreadMethod="reflect"><stop offset="0" stop-color="#d0d0d0"/><stop offset="0.008" stop-color="#d1d1d1"/><stop offset="0.018" stop-color="#d2d2d2"/><stop offset="0.03" stop-color="#d3d3d3"/><stop offset="0.045" stop-color="#d4d4d4"/><stop offset="0.062" stop-color="#d5d5d5"/><stop offset="0.082" stop-color="#d6d6d6"/><stop offset="0.105" stop-color="#d7d7d7"/><stop offset="0.13" stop-color="#d9d9d9"/><stop offset="0.16" stop-color="#dbdbdb"/><stop offset="0.195" stop-color="#dcdcdc"/><stop offset="0.235" stop-color="#dedede"/><stop offset="0.28" stop-color="#e1e1e1"/><stop offset="0.33" stop-color="#e3e3e3"/><stop offset="0.39" stop-color="#e5e5e5"/><stop offset="0.46" stop-color="#e7e7e7"/><stop offset="0.54" stop-color="#eaeaea"/><stop offset="0.63" stop-color="#ececec"/><stop offset="0.73" stop-color="#ededed"/><stop offset="0.84" stop-color="#efefef"/><stop offset="1" stop-color="#efefef"/></linearGradient>
<linearGradient id="b40" gradientUnits="userSpaceOnUse" x1="83.3" y1="0" x2="545.05" y2="0" spreadMethod="reflect"><stop offset="0" stop-color="#d0d0d0"/><stop offset="0.008" stop-color="#d1d1d1"/><stop offset="0.018" stop-color="#d2d2d2"/><stop offset="0.03" stop-color="#d2d2d2"/><stop offset="0.045" stop-color="#d3d3d3"/><stop offset="0.062" stop-color="#d5d5d5"/><stop offset="0.082" stop-color="#d6d6d6"/><stop offset="0.105" stop-color="#d7d7d7"/><stop offset="0.13" stop-color="#d9d9d9"/><stop offset="0.16" stop-color="#dadada"/><stop offset="0.195" stop-color="#dcdcdc"/><stop offset="0.235" stop-color="#dedede"/><stop offset="0.28" stop-color="#e0e0e0"/><stop offset="0.33" stop-color="#e2e2e2"/><stop offset="0.39" stop-color="#e5e5e5"/><stop offset="0.46" stop-color="#e7e7e7"/><stop offset="0.54" stop-color="#e9e9e9"/><stop offset="0.63" stop-color="#ebebeb"/><stop offset="0.73" stop-color="#ededed"/><stop offset="0.84" stop-color="#eeeeee"/><stop offset="1" stop-color="#efefef"/></linearGradient>
<linearGradient id="b41" gradientUnits="userSpaceOnUse" x1="83.3" y1="0" x2="545.05" y2="0" spreadMethod="reflect"><stop offset="0" stop-color="#d0d0d0"/><stop offset="0.008" stop-color="#d1d1d1"/><stop offset="0.018" stop-color="#d1d1d1"/><stop offset="0.03" stop-color="#d2d2d2"/><stop offset="0.045" stop-color="#d3d3d3"/><stop offset="0.062" stop-color="#d4d4d4"/><stop offset="0.082" stop-color="#d6d6d6"/><stop offset="0.105" stop-color="#d7d7d7"/><stop offset="0.13" stop-color="#d8d8d8"/><stop offset="0.16" stop-color="#dadada"/><stop offset="0.195" stop-color="#dcdcdc"/><stop offset="0.235" stop-color="#dedede"/><stop offset="0.28" stop-color="#e0e0e0"/><stop offset="0.33" stop-color="#e2e2e2"/><stop offset="0.39" stop-color="#e4e4e4"/><stop offset="0.46" stop-color="#e7e7e7"/><stop offset="0.54" stop-color="#e9e9e9"/><stop offset="0.63" stop-color="#ebebeb"/><stop offset="0.73" stop-color="#ededed"/><stop offset="0.84" stop-color="#eeeeee"/><stop offset="1" stop-color="#efefef"/></linearGradient>
<linearGradient id="b42" gradientUnits="userSpaceOnUse" x1="83.3" y1="0" x2="545.05" y2="0" spreadMethod="reflect"><stop offset="0" stop-color="#d0d0d0"/><stop offset="0.008" stop-color="#d1d1d1"/><stop offset="0.018" stop-color="#d1d1d1"/><stop offset="0.03" stop-color="#d2d2d2"/><stop offset="0.045" stop-color="#d3d3d3"/><stop offset="0.062" stop-color="#d4d4d4"/><stop offset="0.082" stop-color="#d5d5d5"/><stop offset="0.105" stop-color="#d7d7d7"/><stop offset="0.13" stop-color="#d8d8d8"/><stop offset="0.16" stop-color="#dadada"/><stop offset="0.195" stop-color="#dcdcdc"/><stop offset="0.235" stop-color="#dedede"/><stop offset="0.28" stop-color="#e0e0e0"/><stop offset="0.33" stop-color="#e2e2e2"/><stop offset="0.39" stop-color="#e4e4e4"/><stop offset="0.46" stop-color="#e6e6e6"/><stop offset="0.54" stop-color="#e8e8e8"/><stop offset="0.63" stop-color="#eaeaea"/><stop offset="0.73" stop-color="#ececec"/><stop offset="0.84" stop-color="#ededed"/><stop offset="1" stop-color="#eeeeee"/></linearGradient>
<linearGradient id="b43" gradientUnits="userSpaceOnUse" x1="83.3" y1="0" x2="545.05" y2="0" spreadMethod="reflect"><stop offset="0" stop-color="#d0d0d0"/><stop offset="0.008" stop-color="#d0d0d0"/><stop offset="0.018" stop-color="#d1d1d1"/><stop offset="0.03" stop-color="#d2d2d2"/><stop offset="0.045" stop-color="#d3d3d3"/><stop offset="0.062" stop-color="#d4d4d4"/><stop offset="0.082" stop-color="#d5d5d5"/><stop offset="0.105" stop-color="#d7d7d7"/><stop offset="0.13" stop-color="#d8d8d8"/><stop offset="0.16" stop-color="#dadada"/><stop offset="0.195" stop-color="#dbdbdb"/><stop offset="0.235" stop-color="#dddddd"/><stop offset="0.28" stop-color="#dfdfdf"/><stop offset="0.33" stop-color="#e1e1e1"/><stop offset="0.39" stop-color="#e3e3e3"/><stop offset="0.46" stop-color="#e6e6e6"/><stop offset="0.54" stop-color="#e8e8e8"/><stop offset="0.63" stop-color="#eaeaea"/><stop offset="0.73" stop-color="#ececec"/><stop offset="0.84" stop-color="#ededed"/><stop offset="1" stop-color="#eeeeee"/></linearGradient>
<linearGradient id="b44" gradientUnits="userSpaceOnUse" x1="83.3" y1="0" x2="545.05" y2="0" spreadMethod="reflect"><stop offset="0" stop-color="#d0d0d0"/><stop offset="0.008" stop-color="#d0d0d0"/><stop offset="0.018" stop-color="#d1d1d1"/><stop offset="0.03" stop-color="#d2d2d2"/><stop offset="0.045" stop-color="#d3d3d3"/><stop offset="0.062" stop-color="#d4d4d4"/><stop offset="0.082" stop-color="#d5d5d5"/><stop offset="0.105" stop-color="#d6d6d6"/><stop offset="0.13" stop-color="#d8d8d8"/><stop offset="0.16" stop-color="#d9d9d9"/><stop offset="0.195" stop-color="#dbdbdb"/><stop offset="0.235" stop-color="#dddddd"/><stop offset="0.28" stop-color="#dfdfdf"/><stop offset="0.33" stop-color="#e1e1e1"/><stop offset="0.39" stop-color="#e3e3e3"/><stop offset="0.46" stop-color="#e5e5e5"/><stop offset="0.54" stop-color="#e8e8e8"/><stop offset="0.63" stop-color="#eaeaea"/><stop offset="0.73" stop-color="#ebebeb"/><stop offset="0.84" stop-color="#ededed"/><stop offset="1" stop-color="#ededed"/></linearGradient>
<linearGradient id="b45" gradientUnits="userSpaceOnUse" x1="83.3" y1="0" x2="545.05" y2="0" spreadMethod="reflect"><stop offset="0" stop-color="#d0d0d0"/><stop offset="0.008" stop-color="#d0d0d0"/><stop offset="0.018" stop-color="#d1d1d1"/><stop offset="0.03" stop-color="#d2d2d2"/><stop offset="0.045" stop-color="#d2d2d2"/><stop offset="0.062" stop-color="#d4d4d4"/><stop offset="0.082" stop-color="#d5d5d5"/><stop offset="0.105" stop-color="#d6d6d6"/><stop offset="0.13" stop-color="#d7d7d7"/><stop offset="0.16" stop-color="#d9d9d9"/><stop offset="0.195" stop-color="#dbdbdb"/><stop offset="0.235" stop-color="#dddddd"/><stop offset="0.28" stop-color="#dfdfdf"/><stop offset="0.33" stop-color="#e1e1e1"/><stop offset="0.39" stop-color="#e3e3e3"/><stop offset="0.46" stop-color="#e5e5e5"/><stop offset="0.54" stop-color="#e7e7e7"/><stop offset="0.63" stop-color="#e9e9e9"/><stop offset="0.73" stop-color="#ebebeb"/><stop offset="0.84" stop-color="#ececec"/><stop offset="1" stop-color="#ededed"/></linearGradient>
<linearGradient id="b46" gradientUnits="userSpaceOnUse" x1="83.3" y1="0" x2="545.05" y2="0" spreadMethod="reflect"><stop offset="0" stop-color="#cfcfcf"/><stop offset="0.008" stop-color="#d0d0d0"/><stop offset="0.018" stop-color="#d1d1d1"/><stop offset="0.03" stop-color="#d1d1d1"/><stop offset="0.045" stop-color="#d2d2d2"/><stop offset="0.062" stop-color="#d3d3d3"/><stop offset="0.082" stop-color="#d4d4d4"/><stop offset="0.105" stop-color="#d6d6d6"/><stop offset="0.13" stop-color="#d7d7d7"/><stop offset="0.16" stop-color="#d9d9d9"/><stop offset="0.195" stop-color="#dadada"/><stop offset="0.235" stop-color="#dcdcdc"/><stop offset="0.28" stop-color="#dedede"/><stop offset="0.33" stop-color="#e0e0e0"/><stop offset="0.39" stop-color="#e2e2e2"/><stop offset="0.46" stop-color="#e5e5e5"/><stop offset="0.54" stop-color="#e7e7e7"/><stop offset="0.63" stop-color="#e9e9e9"/><stop offset="0.73" stop-color="#eaeaea"/><stop offset="0.84" stop-color="#ececec"/><stop offset="1" stop-color="#ececec"/></linearGradient>
<linearGradient id="b47" gradientUnits="userSpaceOnUse" x1="83.3" y1="0" x2="545.05" y2="0" spreadMethod="reflect"><stop offset="0" stop-color="#cfcfcf"/><stop offset="0.008" stop-color="#d0d0d0"/><stop offset="0.018" stop-color="#d0d0d0"/><stop offset="0.03" stop-color="#d1d1d1"/><stop offset="0.045" stop-color="#d2d2d2"/><stop offset="0.062" stop-color="#d3d3d3"/><stop offset="0.082" stop-color="#d4d4d4"/><stop offset="0.105" stop-color="#d6d6d6"/><stop offset="0.13" stop-color="#d7d7d7"/><stop offset="0.16" stop-color="#d8d8d8"/><stop offset="0.195" stop-color="#dadada"/><stop offset="0.235" stop-color="#dcdcdc"/><stop offset="0.28" stop-color="#dedede"/><stop offset="0.33" stop-color="#e0e0e0"/><stop offset="0.39" stop-color="#e2e2e2"/><stop offset="0.46" stop-color="#e4e4e4"/><stop offset="0.54" stop-color="#e6e6e6"/><stop offset="0.63" stop-color="#e8e8e8"/><stop offset="0.73" stop-color="#eaeaea"/><stop offset="0.84" stop-color="#ebebeb"/><stop offset="1" stop-color="#ececec"/></linearGradient>
<linearGradient id="b48" gradientUnits="userSpaceOnUse" x1="83.3" y1="0" x2="545.05" y2="0" spreadMethod="reflect"><stop offset="0" stop-color="#cfcfcf"/><stop offset="0.008" stop-color="#d0d0d0"/><stop offset="0.018" stop-color="#d0d0d0"/><stop offset="0.03" stop-color="#d1d1d1"/><stop offset="0.045" stop-color="#d2d2d2"/><stop offset="0.062" stop-color="#d3d3d3"/><stop offset="0.082" stop-color="#d4d4d4"/><stop offset="0.105" stop-color="#d5d5d5"/><stop offset="0.13" stop-color="#d7d7d7"/><stop offset="0.16" stop-color="#d8d8d8"/><stop offset="0.195" stop-color="#dadada"/><stop offset="0.235" stop-color="#dcdcdc"/><stop offset="0.28" stop-color="#dedede"/><stop offset="0.33" stop-color="#dfdfdf"/><stop offset="0.39" stop-color="#e2e2e2"/><stop offset="0.46" stop-color="#e4e4e4"/><stop offset="0.54" stop-color="#e6e6e6"/><stop offset="0.63" stop-color="#e8e8e8"/><stop offset="0.73" stop-color="#eaeaea"/><stop offset="0.84" stop-color="#ebebeb"/><stop offset="1" stop-color="#ebebeb"/></linearGradient>
<linearGradient id="b49" gradientUnits="userSpaceOnUse" x1="83.3" y1="0" x2="545.05" y2="0" spreadMethod="reflect"><stop offset="0" stop-color="#cfcfcf"/><stop offset="0.008" stop-color="#cfcfcf"/><stop offset="0.018" stop-color="#d0d0d0"/><stop offset="0.03" stop-color="#d1d1d1"/><stop offset="0.045" stop-color="#d2d2d2"/><stop offset="0.062" stop-color="#d3d3d3"/><stop offset="0.082" stop-color="#d4d4d4"/><stop offset="0.105" stop-color="#d5d5d5"/><stop offset="0.13" stop-color="#d6d6d6"/><stop offset="0.16" stop-color="#d8d8d8"/><stop offset="0.195" stop-color="#dadada"/><stop offset="0.235" stop-color="#dbdbdb"/><stop offset="0.28" stop-color="#dddddd"/><stop offset="0.33" stop-color="#dfdfdf"/><stop offset="0.39" stop-color="#e1e1e1"/><stop offset="0.46" stop-color="#e3e3e3"/><stop offset="0.54" stop-color="#e5e5e5"/><stop offset="0.63" stop-color="#e7e7e7"/><stop offset="0.73" stop-color="#e9e9e9"/><stop offset="0.84" stop-color="#eaeaea"/><stop offset="1" stop-color="#ebebeb"/></linearGradient>
<linearGradient id="b50" gradientUnits="userSpaceOnUse" x1="83.3" y1="0" x2="545.05" y2="0" spreadMethod="reflect"><stop offset="0" stop-color="#cfcfcf"/><stop offset="0.008" stop-color="#cfcfcf"/><stop offset="0.018" stop-color="#d0d0d0"/><stop offset="0.03" stop-color="#d1d1d1"/><stop offset="0.045" stop-color="#d1d1d1"/><stop offset="0.062" stop-color="#d2d2d2"/><stop offset="0.082" stop-color="#d4d4d4"/><stop offset="0.105" stop-color="#d5d5d5"/><stop offset="0.13" stop-color="#d6d6d6"/><stop offset="0.16" stop-color="#d8d8d8"/><stop offset="0.195" stop-color="#d9d9d9"/><stop offset="0.235" stop-color="#dbdbdb"/><stop offset="0.28" stop-color="#dddddd"/><stop offset="0.33" stop-color="#dfdfdf"/><stop offset="0.39" stop-color="#e1e1e1"/><stop offset="0.46" stop-color="#e3e3e3"/><stop offset="0.54" stop-color="#e5e5e5"/><stop offset="0.63" stop-color="#e7e7e7"/><stop offset="0.73" stop-color="#e9e9e9"/><stop offset="0.84" stop-color="#eaeaea"/><stop offset="1" stop-color="#eaeaea"/></linearGradient>
<linearGradient id="b51" gradientUnits="userSpaceOnUse" x1="83.3" y1="0" x2="545.05" y2="0" spreadMethod="reflect"><stop offset="0" stop-color="#cecece"/><stop offset="0.008" stop-color="#cfcfcf"/><stop offset="0.018" stop-color="#d0d0d0"/><stop offset="0.03" stop-color="#d0d0d0"/><stop offset="0.045" stop-color="#d1d1d1"/><stop offset="0.062" stop-color="#d2d2d2"/><stop offset="0.082" stop-color="#d3d3d3"/><stop offset="0.105" stop-color="#d4d4d4"/><stop offset="0.13" stop-color="#d6d6d6"/><stop offset="0.16" stop-color="#d7d7d7"/><stop offset="0.195" stop-color="#d9d9d9"/><stop offset="0.235" stop-color="#dbdbdb"/><stop offset="0.28" stop-color="#dddddd"/><stop offset="0.33" stop-color="#dedede"/><stop offset="0.39" stop-color="#e0e0e0"/><stop offset="0.46" stop-color="#e3e3e3"/><stop offset="0.54" stop-color="#e5e5e5"/><stop offset="0.63" stop-color="#e7e7e7"/><stop offset="0.73" stop-color="#e8e8e8"/><stop offset="0.84" stop-color="#e9e9e9"/><stop offset="1" stop-color="#eaeaea"/></linearGradient>
<linearGradient id="b52" gradientUnits="userSpaceOnUse" x1="83.3" y1="0" x2="545.05" y2="0" spreadMethod="reflect"><stop offset="0" stop-color="#cecece"/><stop offset="0.008" stop-color="#cfcfcf"/><stop offset="0.018" stop-color="#cfcfcf"/><stop offset="0.03" stop-color="#d0d0d0"/><stop offset="0.045" stop-color="#d1d1d1"/><stop offset="0.062" stop-color="#d2d2d2"/><stop offset="0.082" stop-color="#d3d3d3"/><stop offset="0.105" stop-color="#d4d4d4"/><stop offset="0.13" stop-color="#d5d5d5"/><stop offset="0.16" stop-color="#d7d7d7"/><stop offset="0.195" stop-color="#d9d9d9"/><stop offset="0.235" stop-color="#dadada"/><stop offset="0.28" stop-color="#dcdcdc"/><stop offset="0.33" stop-color="#dedede"/><stop offset="0.39" stop-color="#e0e0e0"/><stop offset="0.46" stop-color="#e2e2e2"/><stop offset="0.54" stop-color="#e4e4e4"/><stop offset="0.63" stop-color="#e6e6e6"/><stop offset="0.73" stop-color="#e8e8e8"/><stop offset="0.84" stop-color="#e9e9e9"/><stop offset="1" stop-color="#eaeaea"/></linearGradient>
<linearGradient id="b53" gradientUnits="userSpaceOnUse" x1="83.3" y1="0" x2="545.05" y2="0" spreadMethod="reflect"><stop offset="0" stop-color="#cecece"/><stop offset="0.008" stop-color="#cfcfcf"/><stop offset="0.018" stop-color="#cfcfcf"/><stop offset="0.03" stop-color="#d0d0d0"/><stop offset="0.045" stop-color="#d1d1d1"/><stop offset="0.062" stop-color="#d2d2d2"/><stop offset="0.082" stop-color="#d3d3d3"/><stop offset="0.105" stop-color="#d4d4d4"/><stop offset="0.13" stop-color="#d5d5d5"/><stop offset="0.16" stop-color="#d7d7d7"/><stop offset="0.195" stop-color="#d8d8d8"/><stop offset="0.235" stop-color="#dadada"/><stop offset="0.28" stop-color="#dcdcdc"/><stop offset="0.33" stop-color="#dedede"/><stop offset="0.39" stop-color="#e0e0e0"/><stop offset="0.46" stop-color="#e2e2e2"/><stop offset="0.54" stop-color="#e4e4e4"/><stop offset="0.63" stop-color="#e6e6e6"/><stop offset="0.73" stop-color="#e7e7e7"/><stop offset="0.84" stop-color="#e8e8e8"/><stop offset="1" stop-color="#e9e9e9"/></linearGradient>
<linearGradient id="b54" gradientUnits="userSpaceOnUse" x1="83.3" y1="0" x2="545.05" y2="0" spreadMethod="reflect"><stop offset="0" stop-color="#cecece"/><stop offset="0.008" stop-color="#cecece"/><stop offset="0.018" stop-color="#cfcfcf"/><stop offset="0.03" stop-color="#d0d0d0"/><stop offset="0.045" stop-color="#d0d0d0"/><stop offset="0.062" stop-color="#d1d1d1"/><stop offset="0.082" stop-color="#d2d2d2"/><stop offset="0.105" stop-color="#d4d4d4"/><stop offset="0.13" stop-color="#d5d5d5"/><stop offset="0.16" stop-color="#d6d6d6"/><stop offset="0.195" stop-color="#d8d8d8"/><stop offset="0.235" stop-color="#dadada"/><stop offset="0.28" stop-color="#dbdbdb"/><stop offset="0.33" stop-color="#dddddd"/><stop offset="0.39" stop-color="#dfdfdf"/><stop offset="0.46" stop-color="#e1e1e1"/><stop offset="0.54" stop-color="#e3e3e3"/><stop offset="0.63" stop-color="#e5e5e5"/><stop offset="0.73" stop-color="#e7e7e7"/><stop offset="0.84" stop-color="#e8e8e8"/><stop offset="1" stop-color="#e9e9e9"/></linearGradient>
<linearGradient id="b55" gradientUnits="userSpaceOnUse" x1="83.3" y1="0" x2="545.05" y2="0" spreadMethod="reflect"><stop offset="0" stop-color="#cecece"/><stop offset="0.008" stop-color="#cecece"/><stop offset="0.018" stop-color="#cfcfcf"/><stop offset="0.03" stop-color="#cfcfcf"/><stop offset="0.045" stop-color="#d0d0d0"/><stop offset="0.062" stop-color="#d1d1d1"/><stop offset="0.082" stop-color="#d2d2d2"/><stop offset="0.105" stop-color="#d3d3d3"/><stop offset="0.13" stop-color="#d5d5d5"/><stop offset="0.16" stop-color="#d6d6d6"/><stop offset="0.195" stop-color="#d8d8d8"/><stop offset="0.235" stop-color="#d9d9d9"/><stop offset="0.28" stop-color="#dbdbdb"/><stop offset="0.33" stop-color="#dddddd"/><stop offset="0.39" stop-color="#dfdfdf"/><stop offset="0.46" stop-color="#e1e1e1"/><stop offset="0.54" stop-color="#e3e3e3"/><stop offset="0.63" stop-color="#e5e5e5"/><stop offset="0.73" stop-color="#e6e6e6"/><stop offset="0.84" stop-color="#e8e8e8"/><stop offset="1" stop-color="#e8e8e8"/></linearGradient>
<linearGradient id="b56" gradientUnits="userSpaceOnUse" x1="83.3" y1="0" x2="545.05" y2="0" spreadMethod="reflect"><stop offset="0" stop-color="#cdcdcd"/><stop offset="0.008" stop-color="#cecece"/><stop offset="0.018" stop-color="#cecece"/><stop offset="0.03" stop-color="#cfcfcf"/><stop offset="0.045" stop-color="#d0d0d0"/><stop offset="0.062" stop-color="#d1d1d1"/><stop offset="0.082" stop-color="#d2d2d2"/><stop offset="0.105" stop-color="#d3d3d3"/><stop offset="0.13" stop-color="#d4d4d4"/><stop offset="0.16" stop-color="#d6d6d6"/><stop offset="0.195" stop-color="#d7d7d7"/><stop offset="0.235" stop-color="#d9d9d9"/><stop offset="0.28" stop-color="#dbdbdb"/><stop offset="0.33" stop-color="#dddddd"/><stop offset="0.39" stop-color="#dfdfdf"/><stop offset="0.46" stop-color="#e1e1e1"/><stop offset="0.54" stop-color="#e3e3e3"/><stop offset="0.63" stop-color="#e4e4e4"/><stop offset="0.73" stop-color="#e6e6e6"/><stop offset="0.84" stop-color="#e7e7e7"/><stop offset="1" stop-color="#e8e8e8"/></linearGradient>
<linearGradient id="b57" gradientUnits="userSpaceOnUse" x1="83.3" y1="0" x2="545.05" y2="0" spreadMethod="reflect"><stop offset="0" stop-color="#cdcdcd"/><stop offset="0.008" stop-color="#cecece"/><stop offset="0.018" stop-color="#cecece"/><stop offset="0.03" stop-color="#cfcfcf"/><stop offset="0.045" stop-color="#d0d0d0"/><stop offset="0.062" stop-color="#d1d1d1"/><stop offset="0.082" stop-color="#d2d2d2"/><stop offset="0.105" stop-color="#d3d3d3"/><stop offset="0.13" stop-color="#d4d4d4"/><stop offset="0.16" stop-color="#d5d5d5"/><stop offset="0.195" stop-color="#d7d7d7"/><stop offset="0.235" stop-color="#d9d9d9"/><stop offset="0.28" stop-color="#dadada"/><stop offset="0.33" stop-color="#dcdcdc"/><stop offset="0.39" stop-color="#dedede"/><stop offset="0.46" stop-color="#e0e0e0"/><stop offset="0.54" stop-color="#e2e2e2"/><stop offset="0.63" stop-color="#e4e4e4"/><stop offset="0.73" stop-color="#e6e6e6"/><stop offset="0.84" stop-color="#e7e7e7"/><stop offset="1" stop-color="#e7e7e7"/></linearGradient>
<linearGradient id="b58" gradientUnits="userSpaceOnUse" x1="83.3" y1="0" x2="545.05" y2="0" spreadMethod="reflect"><stop offset="0" stop-color="#cdcdcd"/><stop offset="0.008" stop-color="#cdcdcd"/><stop offset="0.018" stop-color="#cecece"/><stop offset="0.03" stop-color="#cfcfcf"/><stop offset="0.045" stop-color="#cfcfcf"/><stop offset="0.062" stop-color="#d0d0d0"/><stop offset="0.082" stop-color="#d1d1d1"/><stop offset="0.105" stop-color="#d3d3d3"/><stop offset="0.13" stop-color="#d4d4d4"/><stop offset="0.16" stop-color="#d5d5d5"/><stop offset="0.195" stop-color="#d7d7d7"/><stop offset="0.235" stop-color="#d8d8d8"/><stop offset="0.28" stop-color="#dadada"/><stop offset="0.33" stop-color="#dcdcdc"/><stop offset="0.39" stop-color="#dedede"/><stop offset="0.46" stop-color="#e0e0e0"/><stop offset="0.54" stop-color="#e2e2e2"/><stop offset="0.63" stop-color="#e4e4e4"/><stop offset="0.73" stop-color="#e5e5e5"/><stop offset="0.84" stop-color="#e6e6e6"/><stop offset="1" stop-color="#e7e7e7"/></linearGradient>
<linearGradient id="b59" gradientUnits="userSpaceOnUse" x1="83.3" y1="0" x2="545.05" y2="0" spreadMethod="reflect"><stop offset="0" stop-color="#cdcdcd"/><stop offset="0.008" stop-color="#cdcdcd"/><stop offset="0.018" stop-color="#cecece"/><stop offset="0.03" stop-color="#cecece"/><stop offset="0.045" stop-color="#cfcfcf"/><stop offset="0.062" stop-color="#d0d0d0"/><stop offset="0.082" stop-color="#d1d1d1"/><stop offset="0.105" stop-color="#d2d2d2"/><stop offset="0.13" stop-color="#d3d3d3"/><stop offset="0.16" stop-color="#d5d5d5"/><stop offset="0.195" stop-color="#d6d6d6"/><stop offset="0.235" stop-color="#d8d8d8"/><stop offset="0.28" stop-color="#dadada"/><stop offset="0.33" stop-color="#dbdbdb"/><stop offset="0.39" stop-color="#dddddd"/><stop offset="0.46" stop-color="#dfdfdf"/><stop offset="0.54" stop-color="#e1e1e1"/><stop offset="0.63" stop-color="#e3e3e3"/><stop offset="0.73" stop-color="#e5e5e5"/><stop offset="0.84" stop-color="#e6e6e6"/><stop offset="1" stop-color="#e6e6e6"/></linearGradient>
<linearGradient id="b60" gradientUnits="userSpaceOnUse" x1="83.3" y1="0" x2="545.05" y2="0" spreadMethod="reflect"><stop offset="0" stop-color="#cccccc"/><stop offset="0.008" stop-color="#cdcdcd"/><stop offset="0.018" stop-color="#cdcdcd"/><stop offset="0.03" stop-color="#cecece"/><stop offset="0.045" stop-color="#cfcfcf"/><stop offset="0.062" stop-color="#d0d0d0"/><stop offset="0.082" stop-color="#d1d1d1"/><stop offset="0.105" stop-color="#d2d2d2"/><stop offset="0.13" stop-color="#d3d3d3"/><stop offset="0.16" stop-color="#d4d4d4"/><stop offset="0.195" stop-color="#d6d6d6"/><stop offset="0.235" stop-color="#d8d8d8"/><stop offset="0.28" stop-color="#d9d9d9"/><stop offset="0.33" stop-color="#dbdbdb"/><stop offset="0.39" stop-color="#dddddd"/><stop offset="0.46" stop-color="#dfdfdf"/><stop offset="0.54" stop-color="#e1e1e1"/><stop offset="0.63" stop-color="#e3e3e3"/><stop offset="0.73" stop-color="#e4e4e4"/><stop offset="0.84" stop-color="#e5e5e5"/><stop offset="1" stop-color="#e6e6e6"/></linearGradient>
<linearGradient id="b61" gradientUnits="userSpaceOnUse" x1="83.3" y1="0" x2="545.05" y2="0" spreadMethod="reflect"><stop offset="0" stop-color="#cccccc"/><stop offset="0.008" stop-color="#cdcdcd"/><stop offset="0.018" stop-color="#cdcdcd"/><stop offset="0.03" stop-color="#cecece"/><stop offset="0.045" stop-color="#cfcfcf"/><stop offset="0.062" stop-color="#d0d0d0"/><stop offset="0.082" stop-color="#d1d1d1"/><stop offset="0.105" stop-color="#d2d2d2"/><stop offset="0.13" stop-color="#d3d3d3"/><stop offset="0.16" stop-color="#d4d4d4"/><stop offset="0.195" stop-color="#d6d6d6"/><stop offset="0.235" stop-color="#d7d7d7"/><stop offset="0.28" stop-color="#d9d9d9"/><stop offset="0.33" stop-color="#dbdbdb"/><stop offset="0.39" stop-color="#dddddd"/><stop offset="0.46" stop-color="#dfdfdf"/><stop offset="0.54" stop-color="#e0e0e0"/><stop offset="0.63" stop-color="#e2e2e2"/><stop offset="0.73" stop-color="#e4e4e4"/><stop offset="0.84" stop-color="#e5e5e5"/><stop offset="1" stop-color="#e5e5e5"/></linearGradient>
<linearGradient id="b62" gradientUnits="userSpaceOnUse" x1="83.3" y1="0" x2="545.05" y2="0" spreadMethod="reflect"><stop offset="0" stop-color="#cccccc"/><stop offset="0.008" stop-color="#cccccc"/><stop offset="0.018" stop-color="#cdcdcd"/><stop offset="0.03" stop-color="#cecece"/><stop offset="0.045" stop-color="#cecece"/><stop offset="0.062" stop-color="#cfcfcf"/><stop offset="0.082" stop-color="#d0d0d0"/><stop offset="0.105" stop-color="#d1d1d1"/><stop offset="0.13" stop-color="#d2d2d2"/><stop offset="0.16" stop-color="#d4d4d4"/><stop offset="0.195" stop-color="#d5d5d5"/><stop offset="0.235" stop-color="#d7d7d7"/><stop offset="0.28" stop-color="#d9d9d9"/><stop offset="0.33" stop-color="#dadada"/><stop offset="0.39" stop-color="#dcdcdc"/><stop offset="0.46" stop-color="#dedede"/><stop offset="0.54" stop-color="#e0e0e0"/><stop offset="0.63" stop-color="#e2e2e2"/><stop offset="0.73" stop-color="#e3e3e3"/><stop offset="0.84" stop-color="#e4e4e4"/><stop offset="1" stop-color="#e5e5e5"/></linearGradient>
<linearGradient id="b63" gradientUnits="userSpaceOnUse" x1="83.3" y1="0" x2="545.05" y2="0" spreadMethod="reflect"><stop offset="0" stop-color="#cccccc"/><stop offset="0.008" stop-color="#cccccc"/><stop offset="0.018" stop-color="#cdcdcd"/><stop offset="0.03" stop-color="#cdcdcd"/><stop offset="0.045" stop-color="#cecece"/><stop offset="0.062" stop-color="#cfcfcf"/><stop offset="0.082" stop-color="#d0d0d0"/><stop offset="0.105" stop-color="#d1d1d1"/><stop offset="0.13" stop-color="#d2d2d2"/><stop offset="0.16" stop-color="#d4d4d4"/><stop offset="0.195" stop-color="#d5d5d5"/><stop offset="0.235" stop-color="#d7d7d7"/><stop offset="0.28" stop-color="#d8d8d8"/><stop offset="0.33" stop-color="#dadada"/><stop offset="0.39" stop-color="#dcdcdc"/><stop offset="0.46" stop-color="#dedede"/><stop offset="0.54" stop-color="#e0e0e0"/><stop offset="0.63" stop-color="#e1e1e1"/><stop offset="0.73" stop-color="#e3e3e3"/><stop offset="0.84" stop-color="#e4e4e4"/><stop offset="1" stop-color="#e4e4e4"/></linearGradient>
<linearGradient id="b64" gradientUnits="userSpaceOnUse" x1="83.3" y1="0" x2="545.05" y2="0" spreadMethod="reflect"><stop offset="0" stop-color="#cbcbcb"/><stop offset="0.008" stop-color="#cccccc"/><stop offset="0.018" stop-color="#cccccc"/><stop offset="0.03" stop-color="#cdcdcd"/><stop offset="0.045" stop-color="#cecece"/><stop offset="0.062" stop-color="#cfcfcf"/><stop offset="0.082" stop-color="#d0d0d0"/><stop offset="0.105" stop-color="#d1d1d1"/><stop offset="0.13" stop-color="#d2d2d2"/><stop offset="0.16" stop-color="#d3d3d3"/><stop offset="0.195" stop-color="#d5d5d5"/><stop offset="0.235" stop-color="#d6d6d6"/><stop offset="0.28" stop-color="#d8d8d8"/><stop offset="0.33" stop-color="#dadada"/><stop offset="0.39" stop-color="#dbdbdb"/><stop offset="0.46" stop-color="#dddddd"/><stop offset="0.54" stop-color="#dfdfdf"/><stop offset="0.63" stop-color="#e1e1e1"/><stop offset="0.73" stop-color="#e2e2e2"/><stop offset="0.84" stop-color="#e3e3e3"/><stop offset="1" stop-color="#e4e4e4"/></linearGradient>
<linearGradient id="b65" gradientUnits="userSpaceOnUse" x1="83.3" y1="0" x2="545.05" y2="0" spreadMethod="reflect"><stop offset="0" stop-color="#cbcbcb"/><stop offset="0.008" stop-color="#cccccc"/><stop offset="0.018" stop-color="#cccccc"/><stop offset="0.03" stop-color="#cdcdcd"/><stop offset="0.045" stop-color="#cecece"/><stop offset="0.062" stop-color="#cecece"/><stop offset="0.082" stop-color="#cfcfcf"/><stop offset="0.105" stop-color="#d0d0d0"/><stop offset="0.13" stop-color="#d2d2d2"/><stop offset="0.16" stop-color="#d3d3d3"/><stop offset="0.195" stop-color="#d4d4d4"/><stop offset="0.235" stop-color="#d6d6d6"/><stop offset="0.28" stop-color="#d7d7d7"/><stop offset="0.33" stop-color="#d9d9d9"/><stop offset="0.39" stop-color="#dbdbdb"/><stop offset="0.46" stop-color="#dddddd"/><stop offset="0.54" stop-color="#dfdfdf"/><stop offset="0.63" stop-color="#e0e0e0"/><stop offset="0.73" stop-color="#e2e2e2"/><stop offset="0.84" stop-color="#e3e3e3"/><stop offset="1" stop-color="#e4e4e4"/></linearGradient>
<linearGradient id="b66" gradientUnits="userSpaceOnUse" x1="83.3" y1="0" x2="545.05" y2="0" spreadMethod="reflect"><stop offset="0" stop-color="#cbcbcb"/><stop offset="0.008" stop-color="#cbcbcb"/><stop offset="0.018" stop-color="#cccccc"/><stop offset="0.03" stop-color="#cccccc"/><stop offset="0.045" stop-color="#cdcdcd"/><stop offset="0.062" stop-color="#cecece"/><stop offset="0.082" stop-color="#cfcfcf"/><stop offset="0.105" stop-color="#d0d0d0"/><stop offset="0.13" stop-color="#d1d1d1"/><stop offset="0.16" stop-color="#d3d3d3"/><stop offset="0.195" stop-color="#d4d4d4"/><stop offset="0.235" stop-color="#d5d5d5"/><stop offset="0.28" stop-color="#d7d7d7"/><stop offset="0.33" stop-color="#d9d9d9"/><stop offset="0.39" stop-color="#dbdbdb"/><stop offset="0.46" stop-color="#dcdcdc"/><stop offset="0.54" stop-color="#dedede"/><stop offset="0.63" stop-color="#e0e0e0"/><stop offset="0.73" stop-color="#e1e1e1"/><stop offset="0.84" stop-color="#e3e3e3"/><stop offset="1" stop-color="#e3e3e3"/></linearGradient>
<linearGradient id="b67" gradientUnits="userSpaceOnUse" x1="83.3" y1="0" x2="545.05" y2="0" spreadMethod="reflect"><stop offset="0" stop-color="#cbcbcb"/><stop offset="0.008" stop-color="#cbcbcb"/><stop offset="0.018" stop-color="#cccccc"/><stop offset="0.03" stop-color="#cccccc"/><stop offset="0.045" stop-color="#cdcdcd"/><stop offset="0.062" stop-color="#cecece"/><stop offset="0.082" stop-color="#cfcfcf"/><stop offset="0.105" stop-color="#d0d0d0"/><stop offset="0.13" stop-color="#d1d1d1"/><stop offset="0.16" stop-color="#d2d2d2"/><stop offset="0.195" stop-color="#d4d4d4"/><stop offset="0.235" stop-color="#d5d5d5"/><stop offset="0.28" stop-color="#d7d7d7"/><stop offset="0.33" stop-color="#d8d8d8"/><stop offset="0.39" stop-color="#dadada"/><stop offset="0.46" stop-color="#dcdcdc"/><stop offset="0.54" stop-color="#dedede"/><stop offset="0.63" stop-color="#e0e0e0"/><stop offset="0.73" stop-color="#e1e1e1"/><stop offset="0.84" stop-color="#e2e2e2"/><stop offset="1" stop-color="#e3e3e3"/></linearGradient>
<linearGradient id="b68" gradientUnits="userSpaceOnUse" x1="83.3" y1="0" x2="545.05" y2="0" spreadMethod="reflect"><stop offset="0" stop-color="#cacaca"/><stop offset="0.008" stop-color="#cbcbcb"/><stop offset="0.018" stop-color="#cbcbcb"/><stop offset="0.03" stop-color="#cccccc"/><stop offset="0.045" stop-color="#cdcdcd"/><stop offset="0.062" stop-color="#cdcdcd"/><stop offset="0.082" stop-color="#cecece"/><stop offset="0.105" stop-color="#cfcfcf"/><stop offset="0.13" stop-color="#d1d1d1"/><stop offset="0.16" stop-color="#d2d2d2"/><stop offset="0.195" stop-color="#d3d3d3"/><stop offset="0.235" stop-color="#d5d5d5"/><stop offset="0.28" stop-color="#d6d6d6"/><stop offset="0.33" stop-color="#d8d8d8"/><stop offset="0.39" stop-color="#dadada"/><stop offset="0.46" stop-color="#dcdcdc"/><stop offset="0.54" stop-color="#dddddd"/><stop offset="0.63" stop-color="#dfdfdf"/><stop offset="0.73" stop-color="#e1e1e1"/><stop offset="0.84" stop-color="#e2e2e2"/><stop offset="1" stop-color="#e2e2e2"/></linearGradient>
<linearGradient id="b69" gradientUnits="userSpaceOnUse" x1="83.3" y1="0" x2="545.05" y2="0" spreadMethod="reflect"><stop offset="0" stop-color="#cacaca"/><stop offset="0.008" stop-color="#cbcbcb"/><stop offset="0.018" stop-color="#cbcbcb"/><stop offset="0.03" stop-color="#cccccc"/><stop offset="0.045" stop-color="#cccccc"/><stop offset="0.062" stop-color="#cdcdcd"/><stop offset="0.082" stop-color="#cecece"/><stop offset="0.105" stop-color="#cfcfcf"/><stop offset="0.13" stop-color="#d0d0d0"/><stop offset="0.16" stop-color="#d2d2d2"/><stop offset="0.195" stop-color="#d3d3d3"/><stop offset="0.235" stop-color="#d4d4d4"/><stop offset="0.28" stop-color="#d6d6d6"/><stop offset="0.33" stop-color="#d8d8d8"/><stop offset="0.39" stop-color="#d9d9d9"/><stop offset="0.46" stop-color="#dbdbdb"/><stop offset="0.54" stop-color="#dddddd"/><stop offset="0.63" stop-color="#dfdfdf"/><stop offset="0.73" stop-color="#e0e0e0"/><stop offset="0.84" stop-color="#e1e1e1"/><stop offset="1" stop-color="#e2e2e2"/></linearGradient>
<linearGradient id="b70" gradientUnits="userSpaceOnUse" x1="83.3" y1="0" x2="545.05" y2="0" spreadMethod="reflect"><stop offset="0" stop-color="#cacaca"/><stop offset="0.008" stop-color="#cacaca"/><stop offset="0.018" stop-color="#cbcbcb"/><stop offset="0.03" stop-color="#cbcbcb"/><stop offset="0.045" stop-color="#cccccc"/><stop offset="0.062" stop-color="#cdcdcd"/><stop offset="0.082" stop-color="#cecece"/><stop offset="0.105" stop-color="#cfcfcf"/><stop offset="0.13" stop-color="#d0d0d0"/><stop offset="0.16" stop-color="#d1d1d1"/><stop offset="0.195" stop-color="#d3d3d3"/><stop offset="0.235" stop-color="#d4d4d4"/><stop offset="0.28" stop-color="#d6d6d6"/><stop offset="0.33" stop-color="#d7d7d7"/><stop offset="0.39" stop-color="#d9d9d9"/><stop offset="0.46" stop-color="#dbdbdb"/><stop offset="0.54" stop-color="#dddddd"/><stop offset="0.63" stop-color="#dedede"/><stop offset="0.73" stop-color="#e0e0e0"/><stop offset="0.84" stop-color="#e1e1e1"/><stop offset="1" stop-color="#e1e1e1"/></linearGradient>
<linearGradient id="b71" gradientUnits="userSpaceOnUse" x1="83.3" y1="0" x2="545.05" y2="0" spreadMethod="reflect"><stop offset="0" stop-color="#cacaca"/><stop offset="0.008" stop-color="#cacaca"/><stop offset="0.018" stop-color="#cacaca"/><stop offset="0.03" stop-color="#cbcbcb"/><stop offset="0.045" stop-color="#cccccc"/><stop offset="0.062" stop-color="#cdcdcd"/><stop offset="0.082" stop-color="#cdcdcd"/><stop offset="0.105" stop-color="#cfcfcf"/><stop offset="0.13" stop-color="#d0d0d0"/><stop offset="0.16" stop-color="#d1d1d1"/><stop offset="0.195" stop-color="#d2d2d2"/><stop offset="0.235" stop-color="#d4d4d4"/><stop offset="0.28" stop-color="#d5d5d5"/><stop offset="0.33" stop-color="#d7d7d7"/><stop offset="0.39" stop-color="#d9d9d9"/><stop offset="0.46" stop-color="#dadada"/><stop offset="0.54" stop-color="#dcdcdc"/><stop offset="0.63" stop-color="#dedede"/><stop offset="0.73" stop-color="#dfdfdf"/><stop offset="0.84" stop-color="#e0e0e0"/><stop offset="1" stop-color="#e1e1e1"/></linearGradient>
<linearGradient id="b72" gradientUnits="userSpaceOnUse" x1="83.3" y1="0" x2="545.05" y2="0" spreadMethod="reflect"><stop offset="0" stop-color="#c9c9c9"/><stop offset="0.008" stop-color="#cacaca"/><stop offset="0.018" stop-color="#cacaca"/><stop offset="0.03" stop-color="#cbcbcb"/><stop offset="0.045" stop-color="#cbcbcb"/><stop offset="0.062" stop-color="#cccccc"/><stop offset="0.082" stop-color="#cdcdcd"/><stop offset="0.105" stop-color="#cecece"/><stop offset="0.13" stop-color="#cfcfcf"/><stop offset="0.16" stop-color="#d0d0d0"/><stop offset="0.195" stop-color="#d2d2d2"/><stop offset="0.235" stop-color="#d3d3d3"/><stop offset="0.28" stop-color="#d5d5d5"/><stop offset="0.33" stop-color="#d6d6d6"/><stop offset="0.39" stop-color="#d8d8d8"/><stop offset="0.46" stop-color="#dadada"/><stop offset="0.54" stop-color="#dcdcdc"/><stop offset="0.63" stop-color="#dddddd"/><stop offset="0.73" stop-color="#dfdfdf"/><stop offset="0.84" stop-color="#e0e0e0"/><stop offset="1" stop-color="#e0e0e0"/></linearGradient>
<linearGradient id="b73" gradientUnits="userSpaceOnUse" x1="83.3" y1="0" x2="545.05" y2="0" spreadMethod="reflect"><stop offset="0" stop-color="#c9c9c9"/><stop offset="0.008" stop-color="#c9c9c9"/><stop offset="0.018" stop-color="#cacaca"/><stop offset="0.03" stop-color="#cacaca"/><stop offset="0.045" stop-color="#cbcbcb"/><stop offset="0.062" stop-color="#cccccc"/><stop offset="0.082" stop-color="#cdcdcd"/><stop offset="0.105" stop-color="#cecece"/><stop offset="0.13" stop-color="#cfcfcf"/><stop offset="0.16" stop-color="#d0d0d0"/><stop offset="0.195" stop-color="#d1d1d1"/><stop offset="0.235" stop-color="#d3d3d3"/><stop offset="0.28" stop-color="#d4d4d4"/><stop offset="0.33" stop-color="#d6d6d6"/><stop offset="0.39" stop-color="#d8d8d8"/><stop offset="0.46" stop-color="#dadada"/><stop offset="0.54" stop-color="#dbdbdb"/><stop offset="0.63" stop-color="#dddddd"/><stop offset="0.73" stop-color="#dedede"/><stop offset="0.84" stop-color="#dfdfdf"/><stop offset="1" stop-color="#e0e0e0"/></linearGradient>
<linearGradient id="b74" gradientUnits="userSpaceOnUse" x1="83.3" y1="0" x2="545.05" y2="0" spreadMethod="reflect"><stop offset="0" stop-color="#c9c9c9"/><stop offset="0.008" stop-color="#c9c9c9"/><stop offset="0.018" stop-color="#cacaca"/><stop offset="0.03" stop-color="#cacaca"/><stop offset="0.045" stop-color="#cbcbcb"/><stop offset="0.062" stop-color="#cccccc"/><stop offset="0.082" stop-color="#cdcdcd"/><stop offset="0.105" stop-color="#cecece"/><stop offset="0.13" stop-color="#cfcfcf"/><stop offset="0.16" stop-color="#d0d0d0"/><stop offset="0.195" stop-color="#d1d1d1"/><stop offset="0.235" stop-color="#d3d3d3"/><stop offset="0.28" stop-color="#d4d4d4"/><stop offset="0.33" stop-color="#d6d6d6"/><stop offset="0.39" stop-color="#d7d7d7"/><stop offset="0.46" stop-color="#d9d9d9"/><stop offset="0.54" stop-color="#dbdbdb"/><stop offset="0.63" stop-color="#dddddd"/><stop offset="0.73" stop-color="#dedede"/><stop offset="0.84" stop-color="#dfdfdf"/><stop offset="1" stop-color="#dfdfdf"/></linearGradient>
<linearGradient id="b75" gradientUnits="userSpaceOnUse" x1="83.3" y1="0" x2="545.05" y2="0" spreadMethod="reflect"><stop offset="0" stop-color="#c8c8c8"/><stop offset="0.008" stop-color="#c9c9c9"/><stop offset="0.018" stop-color="#c9c9c9"/><stop offset="0.03" stop-color="#cacaca"/><stop offset="0.045" stop-color="#cbcbcb"/><stop offset="0.062" stop-color="#cbcbcb"/><stop offset="0.082" stop-color="#cccccc"/><stop offset="0.105" stop-color="#cdcdcd"/><stop offset="0.13" stop-color="#cecece"/><stop offset="0.16" stop-color="#cfcfcf"/><stop offset="0.195" stop-color="#d1d1d1"/><stop offset="0.235" stop-color="#d2d2d2"/><stop offset="0.28" stop-color="#d4d4d4"/><stop offset="0.33" stop-color="#d5d5d5"/><stop offset="0.39" stop-color="#d7d7d7"/><stop offset="0.46" stop-color="#d9d9d9"/><stop offset="0.54" stop-color="#dadada"/><stop offset="0.63" stop-color="#dcdcdc"/><stop offset="0.73" stop-color="#dddddd"/><stop offset="0.84" stop-color="#dedede"/><stop offset="1" stop-color="#dfdfdf"/></linearGradient>
<linearGradient id="b76" gradientUnits="userSpaceOnUse" x1="83.3" y1="0" x2="545.05" y2="0" spreadMethod="reflect"><stop offset="0" stop-color="#c8c8c8"/><stop offset="0.008" stop-color="#c9c9c9"/><stop offset="0.018" stop-color="#c9c9c9"/><stop offset="0.03" stop-color="#cacaca"/><stop offset="0.045" stop-color="#cacaca"/><stop offset="0.062" stop-color="#cbcbcb"/><stop offset="0.082" stop-color="#cccccc"/><stop offset="0.105" stop-color="#cdcdcd"/><stop offset="0.13" stop-color="#cecece"/><stop offset="0.16" stop-color="#cfcfcf"/><stop offset="0.195" stop-color="#d0d0d0"/><stop offset="0.235" stop-color="#d2d2d2"/><stop offset="0.28" stop-color="#d3d3d3"/><stop offset="0.33" stop-color="#d5d5d5"/><stop offset="0.39" stop-color="#d7d7d7"/><stop offset="0.46" stop-color="#d8d8d8"/><stop offset="0.54" stop-color="#dadada"/><stop offset="0.63" stop-color="#dcdcdc"/><stop offset="0.73" stop-color="#dddddd"/><stop offset="0.84" stop-color="#dedede"/><stop offset="1" stop-color="#dfdfdf"/></linearGradient>
<linearGradient id="b77" gradientUnits="userSpaceOnUse" x1="83.3" y1="0" x2="545.05" y2="0" spreadMethod="reflect"><stop offset="0" stop-color="#c8c8c8"/><stop offset="0.008" stop-color="#c8c8c8"/><stop offset="0.018" stop-color="#c9c9c9"/><stop offset="0.03" stop-color="#c9c9c9"/><stop offset="0.045" stop-color="#cacaca"/><stop offset="0.062" stop-color="#cbcbcb"/><stop offset="0.082" stop-color="#cccccc"/><stop offset="0.105" stop-color="#cdcdcd"/><stop offset="0.13" stop-color="#cecece"/><stop offset="0.16" stop-color="#cfcfcf"/><stop offset="0.195" stop-color="#d0d0d0"/><stop offset="0.235" stop-color="#d1d1d1"/><stop offset="0.28" stop-color="#d3d3d3"/><stop offset="0.33" stop-color="#d4d4d4"/><stop offset="0.39" stop-color="#d6d6d6"/><stop offset="0.46" stop-color="#d8d8d8"/><stop offset="0.54" stop-color="#dadada"/><stop offset="0.63" stop-color="#dbdbdb"/><stop offset="0.73" stop-color="#dddddd"/><stop offset="0.84" stop-color="#dedede"/><stop offset="1" stop-color="#dedede"/></linearGradient>
<linearGradient id="b78" gradientUnits="userSpaceOnUse" x1="83.3" y1="0" x2="545.05" y2="0" spreadMethod="reflect"><stop offset="0" stop-color="#c8c8c8"/><stop offset="0.008" stop-color="#c8c8c8"/><stop offset="0.018" stop-color="#c8c8c8"/><stop offset="0.03" stop-color="#c9c9c9"/><stop offset="0.045" stop-color="#cacaca"/><stop offset="0.062" stop-color="#cacaca"/><stop offset="0.082" stop-color="#cbcbcb"/><stop offset="0.105" stop-color="#cccccc"/><stop offset="0.13" stop-color="#cdcdcd"/><stop offset="0.16" stop-color="#cecece"/><stop offset="0.195" stop-color="#d0d0d0"/><stop offset="0.235" stop-color="#d1d1d1"/><stop offset="0.28" stop-color="#d3d3d3"/><stop offset="0.33" stop-color="#d4d4d4"/><stop offset="0.39" stop-color="#d6d6d6"/><stop offset="0.46" stop-color="#d8d8d8"/><stop offset="0.54" stop-color="#d9d9d9"/><stop offset="0.63" stop-color="#dbdbdb"/><stop offset="0.73" stop-color="#dcdcdc"/><stop offset="0.84" stop-color="#dddddd"/><stop offset="1" stop-color="#dedede"/></linearGradient>
<linearGradient id="b79" gradientUnits="userSpaceOnUse" x1="83.3" y1="0" x2="545.05" y2="0" spreadMethod="reflect"><stop offset="0" stop-color="#c7c7c7"/><stop offset="0.008" stop-color="#c8c8c8"/><stop offset="0.018" stop-color="#c8c8c8"/><stop offset="0.03" stop-color="#c9c9c9"/><stop offset="0.045" stop-color="#c9c9c9"/><stop offset="0.062" stop-color="#cacaca"/><stop offset="0.082" stop-color="#cbcbcb"/><stop offset="0.105" stop-color="#cccccc"/><stop offset="0.13" stop-color="#cdcdcd"/><stop offset="0.16" stop-color="#cecece"/><stop offset="0.195" stop-color="#cfcfcf"/><stop offset="0.235" stop-color="#d1d1d1"/><stop offset="0.28" stop-color="#d2d2d2"/><stop offset="0.33" stop-color="#d4d4d4"/><stop offset="0.39" stop-color="#d5d5d5"/><stop offset="0.46" stop-color="#d7d7d7"/><stop offset="0.54" stop-color="#d9d9d9"/><stop offset="0.63" stop-color="#dadada"/><stop offset="0.73" stop-color="#dcdcdc"/><stop offset="0.84" stop-color="#dddddd"/><stop offset="1" stop-color="#dddddd"/></linearGradient>
<linearGradient id="b80" gradientUnits="userSpaceOnUse" x1="83.3" y1="0" x2="545.05" y2="0" spreadMethod="reflect"><stop offset="0" stop-color="#c7c7c7"/><stop offset="0.008" stop-color="#c7c7c7"/><stop offset="0.018" stop-color="#c8c8c8"/><stop offset="0.03" stop-color="#c8c8c8"/><stop offset="0.045" stop-color="#c9c9c9"/><stop offset="0.062" stop-color="#cacaca"/><stop offset="0.082" stop-color="#cbcbcb"/><stop offset="0.105" stop-color="#cccccc"/><stop offset="0.13" stop-color="#cdcdcd"/><stop offset="0.16" stop-color="#cecece"/><stop offset="0.195" stop-color="#cfcfcf"/><stop offset="0.235" stop-color="#d0d0d0"/><stop offset="0.28" stop-color="#d2d2d2"/><stop offset="0.33" stop-color="#d3d3d3"/><stop offset="0.39" stop-color="#d5d5d5"/><stop offset="0.46" stop-color="#d7d7d7"/><stop offset="0.54" stop-color="#d8d8d8"/><stop offset="0.63" stop-color="#dadada"/><stop offset="0.73" stop-color="#dbdbdb"/><stop offset="0.84" stop-color="#dcdcdc"/><stop offset="1" stop-color="#dddddd"/></linearGradient>
<linearGradient id="b81" gradientUnits="userSpaceOnUse" x1="83.3" y1="0" x2="545.05" y2="0" spreadMethod="reflect"><stop offset="0" stop-color="#c7c7c7"/><stop offset="0.008" stop-color="#c7c7c7"/><stop offset="0.018" stop-color="#c7c7c7"/><stop offset="0.03" stop-color="#c8c8c8"/><stop offset="0.045" stop-color="#c9c9c9"/><stop offset="0.062" stop-color="#c9c9c9"/><stop offset="0.082" stop-color="#cacaca"/><stop offset="0.105" stop-color="#cbcbcb"/><stop offset="0.13" stop-color="#cccccc"/><stop offset="0.16" stop-color="#cdcdcd"/><stop offset="0.195" stop-color="#cfcfcf"/><stop offset="0.235" stop-color="#d0d0d0"/><stop offset="0.28" stop-color="#d1d1d1"/><stop offset="0.33" stop-color="#d3d3d3"/><stop offset="0.39" stop-color="#d5d5d5"/><stop offset="0.46" stop-color="#d6d6d6"/><stop offset="0.54" stop-color="#d8d8d8"/><stop offset="0.63" stop-color="#d9d9d9"/><stop offset="0.73" stop-color="#dbdbdb"/><stop offset="0.84" stop-color="#dcdcdc"/><stop offset="1" stop-color="#dcdcdc"/></linearGradient>
<linearGradient id="b82" gradientUnits="userSpaceOnUse" x1="83.3" y1="0" x2="545.05" y2="0" spreadMethod="reflect"><stop offset="0" stop-color="#c6c6c6"/><stop offset="0.008" stop-color="#c7c7c7"/><stop offset="0.018" stop-color="#c7c7c7"/><stop offset="0.03" stop-color="#c8c8c8"/><stop offset="0.045" stop-color="#c8c8c8"/><stop offset="0.062" stop-color="#c9c9c9"/><stop offset="0.082" stop-color="#cacaca"/><stop offset="0.105" stop-color="#cbcbcb"/><stop offset="0.13" stop-color="#cccccc"/><stop offset="0.16" stop-color="#cdcdcd"/><stop offset="0.195" stop-color="#cecece"/><stop offset="0.235" stop-color="#d0d0d0"/><stop offset="0.28" stop-color="#d1d1d1"/><stop offset="0.33" stop-color="#d3d3d3"/><stop offset="0.39" stop-color="#d4d4d4"/><stop offset="0.46" stop-color="#d6d6d6"/><stop offset="0.54" stop-color="#d7d7d7"/><stop offset="0.63" stop-color="#d9d9d9"/><stop offset="0.73" stop-color="#dadada"/><stop offset="0.84" stop-color="#dbdbdb"/><stop offset="1" stop-color="#dcdcdc"/></linearGradient>
<linearGradient id="b83" gradientUnits="userSpaceOnUse" x1="83.3" y1="0" x2="545.05" y2="0" spreadMethod="reflect"><stop offset="0" stop-color="#c6c6c6"/><stop offset="0.008" stop-color="#c6c6c6"/><stop offset="0.018" stop-color="#c7c7c7"/><stop offset="0.03" stop-color="#c7c7c7"/><stop offset="0.045" stop-color="#c8c8c8"/><stop offset="0.062" stop-color="#c9c9c9"/><stop offset="0.082" stop-color="#cacaca"/><stop offset="0.105" stop-color="#cacaca"/><stop offset="0.13" stop-color="#cbcbcb"/><stop offset="0.16" stop-color="#cdcdcd"/><stop offset="0.195" stop-color="#cecece"/><stop offset="0.235" stop-color="#cfcfcf"/><stop offset="0.28" stop-color="#d1d1d1"/><stop offset="0.33" stop-color="#d2d2d2"/><stop offset="0.39" stop-color="#d4d4d4"/><stop offset="0.46" stop-color="#d5d5d5"/><stop offset="0.54" stop-color="#d7d7d7"/><stop offset="0.63" stop-color="#d9d9d9"/><stop offset="0.73" stop-color="#dadada"/><stop offset="0.84" stop-color="#dbdbdb"/><stop offset="1" stop-color="#dbdbdb"/></linearGradient>
<linearGradient id="b84" gradientUnits="userSpaceOnUse" x1="83.3" y1="0" x2="545.05" y2="0" spreadMethod="reflect"><stop offset="0" stop-color="#c6c6c6"/><stop offset="0.008" stop-color="#c6c6c6"/><stop offset="0.018" stop-color="#c6c6c6"/><stop offset="0.03" stop-color="#c7c7c7"/><stop offset="0.045" stop-color="#c8c8c8"/><stop offset="0.062" stop-color="#c8c8c8"/><stop offset="0.082" stop-color="#c9c9c9"/><stop offset="0.105" stop-color="#cacaca"/><stop offset="0.13" stop-color="#cbcbcb"/><stop offset="0.16" stop-color="#cccccc"/><stop offset="0.195" stop-color="#cdcdcd"/><stop offset="0.235" stop-color="#cfcfcf"/><stop offset="0.28" stop-color="#d0d0d0"/><stop offset="0.33" stop-color="#d2d2d2"/><stop offset="0.39" stop-color="#d3d3d3"/><stop offset="0.46" stop-color="#d5d5d5"/><stop offset="0.54" stop-color="#d7d7d7"/><stop offset="0.63" stop-color="#d8d8d8"/><stop offset="0.73" stop-color="#d9d9d9"/><stop offset="0.84" stop-color="#dadada"/><stop offset="1" stop-color="#dbdbdb"/></linearGradient>
<linearGradient id="b85" gradientUnits="userSpaceOnUse" x1="83.3" y1="0" x2="545.05" y2="0" spreadMethod="reflect"><stop offset="0" stop-color="#c5c5c5"/><stop offset="0.008" stop-color="#c6c6c6"/><stop offset="0.018" stop-color="#c6c6c6"/><stop offset="0.03" stop-color="#c7c7c7"/><stop offset="0.045" stop-color="#c7c7c7"/><stop offset="0.062" stop-color="#c8c8c8"/><stop offset="0.082" stop-color="#c9c9c9"/><stop offset="0.105" stop-color="#cacaca"/><stop offset="0.13" stop-color="#cbcbcb"/><stop offset="0.16" stop-color="#cccccc"/><stop offset="0.195" stop-color="#cdcdcd"/><stop offset="0.235" stop-color="#cecece"/><stop offset="0.28" stop-color="#d0d0d0"/><stop offset="0.33" stop-color="#d1d1d1"/><stop offset="0.39" stop-color="#d3d3d3"/><stop offset="0.46" stop-color="#d5d5d5"/><stop offset="0.54" stop-color="#d6d6d6"/><stop offset="0.63" stop-color="#d8d8d8"/><stop offset="0.73" stop-color="#d9d9d9"/><stop offset="0.84" stop-color="#dadada"/><stop offset="1" stop-color="#dadada"/></linearGradient>
<linearGradient id="b86" gradientUnits="userSpaceOnUse" x1="83.3" y1="0" x2="545.05" y2="0" spreadMethod="reflect"><stop offset="0" stop-color="#c5c5c5"/><stop offset="0.008" stop-color="#c5c5c5"/><stop offset="0.018" stop-color="#c6c6c6"/><stop offset="0.03" stop-color="#c6c6c6"/><stop offset="0.045" stop-color="#c7c7c7"/><stop offset="0.062" stop-color="#c8c8c8"/><stop offset="0.082" stop-color="#c9c9c9"/><stop offset="0.105" stop-color="#c9c9c9"/><stop offset="0.13" stop-color="#cacaca"/><stop offset="0.16" stop-color="#cbcbcb"/><stop offset="0.195" stop-color="#cdcdcd"/><stop offset="0.235" stop-color="#cecece"/><stop offset="0.28" stop-color="#cfcfcf"/><stop offset="0.33" stop-color="#d1d1d1"/><stop offset="0.39" stop-color="#d2d2d2"/><stop offset="0.46" stop-color="#d4d4d4"/><stop offset="0.54" stop-color="#d6d6d6"/><stop offset="0.63" stop-color="#d7d7d7"/><stop offset="0.73" stop-color="#d9d9d9"/><stop offset="0.84" stop-color="#d9d9d9"/><stop offset="1" stop-color="#dadada"/></linearGradient>
<linearGradient id="b87" gradientUnits="userSpaceOnUse" x1="83.3" y1="0" x2="545.05" y2="0" spreadMethod="reflect"><stop offset="0" stop-color="#c5c5c5"/><stop offset="0.008" stop-color="#c5c5c5"/><stop offset="0.018" stop-color="#c6c6c6"/><stop offset="0.03" stop-color="#c6c6c6"/><stop offset="0.045" stop-color="#c7c7c7"/><stop offset="0.062" stop-color="#c7c7c7"/><stop offset="0.082" stop-color="#c8c8c8"/><stop offset="0.105" stop-color="#c9c9c9"/><stop offset="0.13" stop-color="#cacaca"/><stop offset="0.16" stop-color="#cbcbcb"/><stop offset="0.195" stop-color="#cccccc"/><stop offset="0.235" stop-color="#cecece"/><stop offset="0.28" stop-color="#cfcfcf"/><stop offset="0.33" stop-color="#d1d1d1"/><stop offset="0.39" stop-color="#d2d2d2"/><stop offset="0.46" stop-color="#d4d4d4"/><stop offset="0.54" stop-color="#d5d5d5"/><stop offset="0.63" stop-color="#d7d7d7"/><stop offset="0.73" stop-color="#d8d8d8"/><stop offset="0.84" stop-color="#d9d9d9"/><stop offset="1" stop-color="#dadada"/></linearGradient>
<linearGradient id="b88" gradientUnits="userSpaceOnUse" x1="83.3" y1="0" x2="545.05" y2="0" spreadMethod="reflect"><stop offset="0" stop-color="#c4c4c4"/><stop offset="0.008" stop-color="#c5c5c5"/><stop offset="0.018" stop-color="#c5c5c5"/><stop offset="0.03" stop-color="#c6c6c6"/><stop offset="0.045" stop-color="#c6c6c6"/><stop offset="0.062" stop-color="#c7c7c7"/><stop offset="0.082" stop-color="#c8c8c8"/><stop offset="0.105" stop-color="#c9c9c9"/><stop offset="0.13" stop-color="#cacaca"/><stop offset="0.16" stop-color="#cbcbcb"/><stop offset="0.195" stop-color="#cccccc"/><stop offset="0.235" stop-color="#cdcdcd"/><stop offset="0.28" stop-color="#cfcfcf"/><stop offset="0.33" stop-color="#d0d0d0"/><stop offset="0.39" stop-color="#d2d2d2"/><stop offset="0.46" stop-color="#d3d3d3"/><stop offset="0.54" stop-color="#d5d5d5"/><stop offset="0.63" stop-color="#d6d6d6"/><stop offset="0.73" stop-color="#d8d8d8"/><stop offset="0.84" stop-color="#d9d9d9"/><stop offset="1" stop-color="#d9d9d9"/></linearGradient>
<linearGradient id="b89" gradientUnits="userSpaceOnUse" x1="83.3" y1="0" x2="545.05" y2="0" spreadMethod="reflect"><stop offset="0" stop-color="#c4c4c4"/><stop offset="0.008" stop-color="#c4c4c4"/><stop offset="0.018" stop-color="#c5c5c5"/><stop offset="0.03" stop-color="#c5c5c5"/><stop offset="0.045" stop-color="#c6c6c6"/><stop offset="0.062" stop-color="#c7c7c7"/><stop offset="0.082" stop-color="#c7c7c7"/><stop offset="0.105" stop-color="#c8c8c8"/><stop offset="0.13" stop-color="#c9c9c9"/><stop offset="0.16" stop-color="#cacaca"/><stop offset="0.195" stop-color="#cccccc"/><stop offset="0.235" stop-color="#cdcdcd"/><stop offset="0.28" stop-color="#cecece"/><stop offset="0.33" stop-color="#d0d0d0"/><stop offset="0.39" stop-color="#d1d1d1"/><stop offset="0.46" stop-color="#d3d3d3"/><stop offset="0.54" stop-color="#d4d4d4"/><stop offset="0.63" stop-color="#d6d6d6"/><stop offset="0.73" stop-color="#d7d7d7"/><stop offset="0.84" stop-color="#d8d8d8"/><stop offset="1" stop-color="#d9d9d9"/></linearGradient>
<linearGradient id="b90" gradientUnits="userSpaceOnUse" x1="83.3" y1="0" x2="545.05" y2="0" spreadMethod="reflect"><stop offset="0" stop-color="#c4c4c4"/><stop offset="0.008" stop-color="#c4c4c4"/><stop offset="0.018" stop-color="#c5c5c5"/><stop offset="0.03" stop-color="#c5c5c5"/><stop offset="0.045" stop-color="#c6c6c6"/><stop offset="0.062" stop-color="#c6c6c6"/><stop offset="0.082" stop-color="#c7c7c7"/><stop offset="0.105" stop-color="#c8c8c8"/><stop offset="0.13" stop-color="#c9c9c9"/><stop offset="0.16" stop-color="#cacaca"/><stop offset="0.195" stop-color="#cbcbcb"/><stop offset="0.235" stop-color="#cdcdcd"/><stop offset="0.28" stop-color="#cecece"/><stop offset="0.33" stop-color="#cfcfcf"/><stop offset="0.39" stop-color="#d1d1d1"/><stop offset="0.46" stop-color="#d2d2d2"/><stop offset="0.54" stop-color="#d4d4d4"/><stop offset="0.63" stop-color="#d5d5d5"/><stop offset="0.73" stop-color="#d7d7d7"/><stop offset="0.84" stop-color="#d8d8d8"/><stop offset="1" stop-color="#d8d8d8"/></linearGradient>
<linearGradient id="b91" gradientUnits="userSpaceOnUse" x1="83.3" y1="0" x2="545.05" y2="0" spreadMethod="reflect"><stop offset="0" stop-color="#c3c3c3"/><stop offset="0.008" stop-color="#c4c4c4"/><stop offset="0.018" stop-color="#c4c4c4"/><stop offset="0.03" stop-color="#c5c5c5"/><stop offset="0.045" stop-color="#c5c5c5"/><stop offset="0.062" stop-color="#c6c6c6"/><stop offset="0.082" stop-color="#c7c7c7"/><stop offset="0.105" stop-color="#c8c8c8"/><stop offset="0.13" stop-color="#c9c9c9"/><stop offset="0.16" stop-color="#cacaca"/><stop offset="0.195" stop-color="#cbcbcb"/><stop offset="0.235" stop-color="#cccccc"/><stop offset="0.28" stop-color="#cdcdcd"/><stop offset="0.33" stop-color="#cfcfcf"/><stop offset="0.39" stop-color="#d0d0d0"/><stop offset="0.46" stop-color="#d2d2d2"/><stop offset="0.54" stop-color="#d4d4d4"/><stop offset="0.63" stop-color="#d5d5d5"/><stop offset="0.73" stop-color="#d6d6d6"/><stop offset="0.84" stop-color="#d7d7d7"/><stop offset="1" stop-color="#d8d8d8"/></linearGradient>
<linearGradient id="b92" gradientUnits="userSpaceOnUse" x1="83.3" y1="0" x2="545.05" y2="0" spreadMethod="reflect"><stop offset="0" stop-color="#c3c3c3"/><stop offset="0.008" stop-color="#c3c3c3"/><stop offset="0.018" stop-color="#c4c4c4"/><stop offset="0.03" stop-color="#c4c4c4"/><stop offset="0.045" stop-color="#c5c5c5"/><stop offset="0.062" stop-color="#c6c6c6"/><stop offset="0.082" stop-color="#c6c6c6"/><stop offset="0.105" stop-color="#c7c7c7"/><stop offset="0.13" stop-color="#c8c8c8"/><stop offset="0.16" stop-color="#c9c9c9"/><stop offset="0.195" stop-color="#cacaca"/><stop offset="0.235" stop-color="#cccccc"/><stop offset="0.28" stop-color="#cdcdcd"/><stop offset="0.33" stop-color="#cecece"/><stop offset="0.39" stop-color="#d0d0d0"/><stop offset="0.46" stop-color="#d2d2d2"/><stop offset="0.54" stop-color="#d3d3d3"/><stop offset="0.63" stop-color="#d5d5d5"/><stop offset="0.73" stop-color="#d6d6d6"/><stop offset="0.84" stop-color="#d7d7d7"/><stop offset="1" stop-color="#d7d7d7"/></linearGradient>
<linearGradient id="b93" gradientUnits="userSpaceOnUse" x1="83.3" y1="0" x2="545.05" y2="0" spreadMethod="reflect"><stop offset="0" stop-color="#c3c3c3"/><stop offset="0.008" stop-color="#c3c3c3"/><stop offset="0.018" stop-color="#c4c4c4"/><stop offset="0.03" stop-color="#c4c4c4"/><stop offset="0.045" stop-color="#c5c5c5"/><stop offset="0.062" stop-color="#c5c5c5"/><stop offset="0.082" stop-color="#c6c6c6"/><stop offset="0.105" stop-color="#c7c7c7"/><stop offset="0.13" stop-color="#c8c8c8"/><stop offset="0.16" stop-color="#c9c9c9"/><stop offset="0.195" stop-color="#cacaca"/><stop offset="0.235" stop-color="#cbcbcb"/><stop offset="0.28" stop-color="#cdcdcd"/><stop offset="0.33" stop-color="#cecece"/><stop offset="0.39" stop-color="#d0d0d0"/><stop offset="0.46" stop-color="#d1d1d1"/><stop offset="0.54" stop-color="#d3d3d3"/><stop offset="0.63" stop-color="#d4d4d4"/><stop offset="0.73" stop-color="#d5d5d5"/><stop offset="0.84" stop-color="#d6d6d6"/><stop offset="1" stop-color="#d7d7d7"/></linearGradient>
<linearGradient id="b94" gradientUnits="userSpaceOnUse" x1="83.3" y1="0" x2="545.05" y2="0" spreadMethod="reflect"><stop offset="0" stop-color="#c2c2c2"/><stop offset="0.008" stop-color="#c3c3c3"/><stop offset="0.018" stop-color="#c3c3c3"/><stop offset="0.03" stop-color="#c4c4c4"/><stop offset="0.045" stop-color="#c4c4c4"/><stop offset="0.062" stop-color="#c5c5c5"/><stop offset="0.082" stop-color="#c6c6c6"/><stop offset="0.105" stop-color="#c7c7c7"/><stop offset="0.13" stop-color="#c7c7c7"/><stop offset="0.16" stop-color="#c9c9c9"/><stop offset="0.195" stop-color="#cacaca"/><stop offset="0.235" stop-color="#cbcbcb"/><stop offset="0.28" stop-color="#cccccc"/><stop offset="0.33" stop-color="#cecece"/><stop offset="0.39" stop-color="#cfcfcf"/><stop offset="0.46" stop-color="#d1d1d1"/><stop offset="0.54" stop-color="#d2d2d2"/><stop offset="0.63" stop-color="#d4d4d4"/><stop offset="0.73" stop-color="#d5d5d5"/><stop offset="0.84" stop-color="#d6d6d6"/><stop offset="1" stop-color="#d6d6d6"/></linearGradient>
<linearGradient id="b95" gradientUnits="userSpaceOnUse" x1="83.3" y1="0" x2="545.05" y2="0" spreadMethod="reflect"><stop offset="0" stop-color="#c2c2c2"/><stop offset="0.008" stop-color="#c2c2c2"/><stop offset="0.018" stop-color="#c3c3c3"/><stop offset="0.03" stop-color="#c3c3c3"/><stop offset="0.045" stop-color="#c4c4c4"/><stop offset="0.062" stop-color="#c5c5c5"/><stop offset="0.082" stop-color="#c5c5c5"/><stop offset="0.105" stop-color="#c6c6c6"/><stop offset="0.13" stop-color="#c7c7c7"/><stop offset="0.16" stop-color="#c8c8c8"/><stop offset="0.195" stop-color="#c9c9c9"/><stop offset="0.235" stop-color="#cbcbcb"/><stop offset="0.28" stop-color="#cccccc"/><stop offset="0.33" stop-color="#cdcdcd"/><stop offset="0.39" stop-color="#cfcfcf"/><stop offset="0.46" stop-color="#d0d0d0"/><stop offset="0.54" stop-color="#d2d2d2"/><stop offset="0.63" stop-color="#d3d3d3"/><stop offset="0.73" stop-color="#d4d4d4"/><stop offset="0.84" stop-color="#d5d5d5"/><stop offset="1" stop-color="#d6d6d6"/></linearGradient>
<linearGradient id="b96" gradientUnits="userSpaceOnUse" x1="83.3" y1="0" x2="545.05" y2="0" spreadMethod="reflect"><stop offset="0" stop-color="#c2c2c2"/><stop offset="0.008" stop-color="#c2c2c2"/><stop offset="0.018" stop-color="#c3c3c3"/><stop offset="0.03" stop-color="#c3c3c3"/><stop offset="0.045" stop-color="#c4c4c4"/><stop offset="0.062" stop-color="#c4c4c4"/><stop offset="0.082" stop-color="#c5c5c5"/><stop offset="0.105" stop-color="#c6c6c6"/><stop offset="0.13" stop-color="#c7c7c7"/><stop offset="0.16" stop-color="#c8c8c8"/><stop offset="0.195" stop-color="#c9c9c9"/><stop offset="0.235" stop-color="#cacaca"/><stop offset="0.28" stop-color="#cccccc"/><stop offset="0.33" stop-color="#cdcdcd"/><stop offset="0.39" stop-color="#cecece"/><stop offset="0.46" stop-color="#d0d0d0"/><stop offset="0.54" stop-color="#d1d1d1"/><stop offset="0.63" stop-color="#d3d3d3"/><stop offset="0.73" stop-color="#d4d4d4"/><stop offset="0.84" stop-color="#d5d5d5"/><stop offset="1" stop-color="#d5d5d5"/></linearGradient>
<linearGradient id="b97" gradientUnits="userSpaceOnUse" x1="83.3" y1="0" x2="545.05" y2="0" spreadMethod="reflect"><stop offset="0" stop-color="#c1c1c1"/><stop offset="0.008" stop-color="#c2c2c2"/><stop offset="0.018" stop-color="#c2c2c2"/><stop offset="0.03" stop-color="#c3c3c3"/><stop offset="0.045" stop-color="#c3c3c3"/><stop offset="0.062" stop-color="#c4c4c4"/><stop offset="0.082" stop-color="#c5c5c5"/><stop offset="0.105" stop-color="#c6c6c6"/><stop offset="0.13" stop-color="#c6c6c6"/><stop offset="0.16" stop-color="#c7c7c7"/><stop offset="0.195" stop-color="#c9c9c9"/><stop offset="0.235" stop-color="#cacaca"/><stop offset="0.28" stop-color="#cbcbcb"/><stop offset="0.33" stop-color="#cccccc"/><stop offset="0.39" stop-color="#cecece"/><stop offset="0.46" stop-color="#cfcfcf"/><stop offset="0.54" stop-color="#d1d1d1"/><stop offset="0.63" stop-color="#d2d2d2"/><stop offset="0.73" stop-color="#d4d4d4"/><stop offset="0.84" stop-color="#d4d4d4"/><stop offset="1" stop-color="#d5d5d5"/></linearGradient>
<linearGradient id="b98" gradientUnits="userSpaceOnUse" x1="83.3" y1="0" x2="545.05" y2="0" spreadMethod="reflect"><stop offset="0" stop-color="#c1c1c1"/><stop offset="0.008" stop-color="#c1c1c1"/><stop offset="0.018" stop-color="#c2c2c2"/><stop offset="0.03" stop-color="#c2c2c2"/><stop offset="0.045" stop-color="#c3c3c3"/><stop offset="0.062" stop-color="#c4c4c4"/><stop offset="0.082" stop-color="#c4c4c4"/><stop offset="0.105" stop-color="#c5c5c5"/><stop offset="0.13" stop-color="#c6c6c6"/><stop offset="0.16" stop-color="#c7c7c7"/><stop offset="0.195" stop-color="#c8c8c8"/><stop offset="0.235" stop-color="#c9c9c9"/><stop offset="0.28" stop-color="#cbcbcb"/><stop offset="0.33" stop-color="#cccccc"/><stop offset="0.39" stop-color="#cecece"/><stop offset="0.46" stop-color="#cfcfcf"/><stop offset="0.54" stop-color="#d1d1d1"/><stop offset="0.63" stop-color="#d2d2d2"/><stop offset="0.73" stop-color="#d3d3d3"/><stop offset="0.84" stop-color="#d4d4d4"/><stop offset="1" stop-color="#d4d4d4"/></linearGradient>
<linearGradient id="b99" gradientUnits="userSpaceOnUse" x1="83.3" y1="0" x2="545.05" y2="0" spreadMethod="reflect"><stop offset="0" stop-color="#c1c1c1"/><stop offset="0.008" stop-color="#c1c1c1"/><stop offset="0.018" stop-color="#c1c1c1"/><stop offset="0.03" stop-color="#c2c2c2"/><stop offset="0.045" stop-color="#c3c3c3"/><stop offset="0.062" stop-color="#c3c3c3"/><stop offset="0.082" stop-color="#c4c4c4"/><stop offset="0.105" stop-color="#c5c5c5"/><stop offset="0.13" stop-color="#c6c6c6"/><stop offset="0.16" stop-color="#c7c7c7"/><stop offset="0.195" stop-color="#c8c8c8"/><stop offset="0.235" stop-color="#c9c9c9"/><stop offset="0.28" stop-color="#cacaca"/><stop offset="0.33" stop-color="#cccccc"/><stop offset="0.39" stop-color="#cdcdcd"/><stop offset="0.46" stop-color="#cfcfcf"/><stop offset="0.54" stop-color="#d0d0d0"/><stop offset="0.63" stop-color="#d1d1d1"/><stop offset="0.73" stop-color="#d3d3d3"/><stop offset="0.84" stop-color="#d4d4d4"/><stop offset="1" stop-color="#d4d4d4"/></linearGradient>
<linearGradient id="b100" gradientUnits="userSpaceOnUse" x1="83.3" y1="0" x2="545.05" y2="0" spreadMethod="reflect"><stop offset="0" stop-color="#c0c0c0"/><stop offset="0.008" stop-color="#c1c1c1"/><stop offset="0.018" stop-color="#c1c1c1"/><stop offset="0.03" stop-color="#c2c2c2"/><stop offset="0.045" stop-color="#c2c2c2"/><stop offset="0.062" stop-color="#c3c3c3"/><stop offset="0.082" stop-color="#c4c4c4"/><stop offset="0.105" stop-color="#c4c4c4"/><stop offset="0.13" stop-color="#c5c5c5"/><stop offset="0.16" stop-color="#c6c6c6"/><stop offset="0.195" stop-color="#c7c7c7"/><stop offset="0.235" stop-color="#c9c9c9"/><stop offset="0.28" stop-color="#cacaca"/><stop offset="0.33" stop-color="#cbcbcb"/><stop offset="0.39" stop-color="#cdcdcd"/><stop offset="0.46" stop-color="#cecece"/><stop offset="0.54" stop-color="#d0d0d0"/><stop offset="0.63" stop-color="#d1d1d1"/><stop offset="0.73" stop-color="#d2d2d2"/><stop offset="0.84" stop-color="#d3d3d3"/><stop offset="1" stop-color="#d4d4d4"/></linearGradient>
<linearGradient id="b101" gradientUnits="userSpaceOnUse" x1="83.3" y1="0" x2="545.05" y2="0" spreadMethod="reflect"><stop offset="0" stop-color="#c0c0c0"/><stop offset="0.008" stop-color="#c0c0c0"/><stop offset="0.018" stop-color="#c1c1c1"/><stop offset="0.03" stop-color="#c1c1c1"/><stop offset="0.045" stop-color="#c2c2c2"/><stop offset="0.062" stop-color="#c2c2c2"/><stop offset="0.082" stop-color="#c3c3c3"/><stop offset="0.105" stop-color="#c4c4c4"/><stop offset="0.13" stop-color="#c5c5c5"/><stop offset="0.16" stop-color="#c6c6c6"/><stop offset="0.195" stop-color="#c7c7c7"/><stop offset="0.235" stop-color="#c8c8c8"/><stop offset="0.28" stop-color="#c9c9c9"/><stop offset="0.33" stop-color="#cbcbcb"/><stop offset="0.39" stop-color="#cccccc"/><stop offset="0.46" stop-color="#cecece"/><stop offset="0.54" stop-color="#cfcfcf"/><stop offset="0.63" stop-color="#d1d1d1"/><stop offset="0.73" stop-color="#d2d2d2"/><stop offset="0.84" stop-color="#d3d3d3"/><stop offset="1" stop-color="#d3d3d3"/></linearGradient>
<linearGradient id="b102" gradientUnits="userSpaceOnUse" x1="83.3" y1="0" x2="545.05" y2="0" spreadMethod="reflect"><stop offset="0" stop-color="#c0c0c0"/><stop offset="0.008" stop-color="#c0c0c0"/><stop offset="0.018" stop-color="#c0c0c0"/><stop offset="0.03" stop-color="#c1c1c1"/><stop offset="0.045" stop-color="#c1c1c1"/><stop offset="0.062" stop-color="#c2c2c2"/><stop offset="0.082" stop-color="#c3c3c3"/><stop offset="0.105" stop-color="#c4c4c4"/><stop offset="0.13" stop-color="#c5c5c5"/><stop offset="0.16" stop-color="#c6c6c6"/><stop offset="0.195" stop-color="#c7c7c7"/><stop offset="0.235" stop-color="#c8c8c8"/><stop offset="0.28" stop-color="#c9c9c9"/><stop offset="0.33" stop-color="#cacaca"/><stop offset="0.39" stop-color="#cccccc"/><stop offset="0.46" stop-color="#cdcdcd"/><stop offset="0.54" stop-color="#cfcfcf"/><stop offset="0.63" stop-color="#d0d0d0"/><stop offset="0.73" stop-color="#d1d1d1"/><stop offset="0.84" stop-color="#d2d2d2"/><stop offset="1" stop-color="#d3d3d3"/></linearGradient>
<linearGradient id="b103" gradientUnits="userSpaceOnUse" x1="83.3" y1="0" x2="545.05" y2="0" spreadMethod="reflect"><stop offset="0" stop-color="#bfbfbf"/><stop offset="0.008" stop-color="#c0c0c0"/><stop offset="0.018" stop-color="#c0c0c0"/><stop offset="0.03" stop-color="#c1c1c1"/><stop offset="0.045" stop-color="#c1c1c1"/><stop offset="0.062" stop-color="#c2c2c2"/><stop offset="0.082" stop-color="#c2c2c2"/><stop offset="0.105" stop-color="#c3c3c3"/><stop offset="0.13" stop-color="#c4c4c4"/><stop offset="0.16" stop-color="#c5c5c5"/><stop offset="0.195" stop-color="#c6c6c6"/><stop offset="0.235" stop-color="#c7c7c7"/><stop offset="0.28" stop-color="#c9c9c9"/><stop offset="0.33" stop-color="#cacaca"/><stop offset="0.39" stop-color="#cbcbcb"/><stop offset="0.46" stop-color="#cdcdcd"/><stop offset="0.54" stop-color="#cecece"/><stop offset="0.63" stop-color="#d0d0d0"/><stop offset="0.73" stop-color="#d1d1d1"/><stop offset="0.84" stop-color="#d2d2d2"/><stop offset="1" stop-color="#d2d2d2"/></linearGradient>
<linearGradient id="b104" gradientUnits="userSpaceOnUse" x1="83.3" y1="0" x2="545.05" y2="0" spreadMethod="reflect"><stop offset="0" stop-color="#bfbfbf"/><stop offset="0.008" stop-color="#bfbfbf"/><stop offset="0.018" stop-color="#c0c0c0"/><stop offset="0.03" stop-color="#c0c0c0"/><stop offset="0.045" stop-color="#c1c1c1"/><stop offset="0.062" stop-color="#c1c1c1"/><stop offset="0.082" stop-color="#c2c2c2"/><stop offset="0.105" stop-color="#c3c3c3"/><stop offset="0.13" stop-color="#c4c4c4"/><stop offset="0.16" stop-color="#c5c5c5"/><stop offset="0.195" stop-color="#c6c6c6"/><stop offset="0.235" stop-color="#c7c7c7"/><stop offset="0.28" stop-color="#c8c8c8"/><stop offset="0.33" stop-color="#cacaca"/><stop offset="0.39" stop-color="#cbcbcb"/><stop offset="0.46" stop-color="#cccccc"/><stop offset="0.54" stop-color="#cecece"/><stop offset="0.63" stop-color="#cfcfcf"/><stop offset="0.73" stop-color="#d0d0d0"/><stop offset="0.84" stop-color="#d1d1d1"/><stop offset="1" stop-color="#d2d2d2"/></linearGradient>
<clipPath id="cc"><rect x="83.3" y="10" width="923.5" height="627.7"/></clipPath>
<linearGradient id="gl" gradientUnits="userSpaceOnUse" x1="0" y1="39" x2="0" y2="521.3">
<stop offset="0" stop-color="#bcbcbc"/><stop offset="0.5" stop-color="#696969"/><stop offset="1" stop-color="#161616"/>
</linearGradient>
<linearGradient id="ax" gradientUnits="userSpaceOnUse" x1="0" y1="39" x2="0" y2="521.3">
<stop offset="0" stop-color="#8c8c8c"/><stop offset="1" stop-color="#9a9a9a"/>
</linearGradient>
</defs>
<rect x="0" y="0" width="1080" height="782" fill="#ffffff"/>
<g clip-path="url(#cc)"><g shape-rendering="crispEdges">
<rect x="82" y="10" width="927" height="7" fill="url(#b0)"/>
<rect x="82" y="16" width="927" height="7" fill="url(#b1)"/>
<rect x="82" y="22" width="927" height="7" fill="url(#b2)"/>
<rect x="82" y="28" width="927" height="7" fill="url(#b3)"/>
<rect x="82" y="34" width="927" height="7" fill="url(#b4)"/>
<rect x="82" y="40" width="927" height="7" fill="url(#b5)"/>
<rect x="82" y="46" width="927" height="7" fill="url(#b6)"/>
<rect x="82" y="52" width="927" height="7" fill="url(#b7)"/>
<rect x="82" y="58" width="927" height="7" fill="url(#b8)"/>
<rect x="82" y="64" width="927" height="7" fill="url(#b9)"/>
<rect x="82" y="70" width="927" height="7" fill="url(#b10)"/>
<rect x="82" y="76" width="927" height="7" fill="url(#b11)"/>
<rect x="82" y="82" width="927" height="7" fill="url(#b12)"/>
<rect x="82" y="88" width="927" height="7" fill="url(#b13)"/>
<rect x="82" y="94" width="927" height="7" fill="url(#b14)"/>
<rect x="82" y="100" width="927" height="7" fill="url(#b15)"/>
<rect x="82" y="106" width="927" height="7" fill="url(#b16)"/>
<rect x="82" y="112" width="927" height="7" fill="url(#b17)"/>
<rect x="82" y="118" width="927" height="7" fill="url(#b18)"/>
<rect x="82" y="124" width="927" height="7" fill="url(#b19)"/>
<rect x="82" y="130" width="927" height="7" fill="url(#b20)"/>
<rect x="82" y="136" width="927" height="7" fill="url(#b21)"/>
<rect x="82" y="142" width="927" height="7" fill="url(#b22)"/>
<rect x="82" y="148" width="927" height="7" fill="url(#b23)"/>
<rect x="82" y="154" width="927" height="7" fill="url(#b24)"/>
<rect x="82" y="160" width="927" height="7" fill="url(#b25)"/>
<rect x="82" y="166" width="927" height="7" fill="url(#b26)"/>
<rect x="82" y="172" width="927" height="7" fill="url(#b27)"/>
<rect x="82" y="178" width="927" height="7" fill="url(#b28)"/>
<rect x="82" y="184" width="927" height="7" fill="url(#b29)"/>
<rect x="82" y="190" width="927" height="7" fill="url(#b30)"/>
<rect x="82" y="196" width="927" height="7" fill="url(#b31)"/>
<rect x="82" y="202" width="927" height="7" fill="url(#b32)"/>
<rect x="82" y="208" width="927" height="7" fill="url(#b33)"/>
<rect x="82" y="214" width="927" height="7" fill="url(#b34)"/>
<rect x="82" y="220" width="927" height="7" fill="url(#b35)"/>
<rect x="82" y="226" width="927" height="7" fill="url(#b36)"/>
<rect x="82" y="232" width="927" height="7" fill="url(#b37)"/>
<rect x="82" y="238" width="927" height="7" fill="url(#b38)"/>
<rect x="82" y="244" width="927" height="7" fill="url(#b39)"/>
<rect x="82" y="250" width="927" height="7" fill="url(#b40)"/>
<rect x="82" y="256" width="927" height="7" fill="url(#b41)"/>
<rect x="82" y="262" width="927" height="7" fill="url(#b42)"/>
<rect x="82" y="268" width="927" height="7" fill="url(#b43)"/>
<rect x="82" y="274" width="927" height="7" fill="url(#b44)"/>
<rect x="82" y="280" width="927" height="7" fill="url(#b45)"/>
<rect x="82" y="286" width="927" height="7" fill="url(#b46)"/>
<rect x="82" y="292" width="927" height="7" fill="url(#b47)"/>
<rect x="82" y="298" width="927" height="7" fill="url(#b48)"/>
<rect x="82" y="304" width="927" height="7" fill="url(#b49)"/>
<rect x="82" y="310" width="927" height="7" fill="url(#b50)"/>
<rect x="82" y="316" width="927" height="7" fill="url(#b51)"/>
<rect x="82" y="322" width="927" height="7" fill="url(#b52)"/>
<rect x="82" y="328" width="927" height="7" fill="url(#b53)"/>
<rect x="82" y="334" width="927" height="7" fill="url(#b54)"/>
<rect x="82" y="340" width="927" height="7" fill="url(#b55)"/>
<rect x="82" y="346" width="927" height="7" fill="url(#b56)"/>
<rect x="82" y="352" width="927" height="7" fill="url(#b57)"/>
<rect x="82" y="358" width="927" height="7" fill="url(#b58)"/>
<rect x="82" y="364" width="927" height="7" fill="url(#b59)"/>
<rect x="82" y="370" width="927" height="7" fill="url(#b60)"/>
<rect x="82" y="376" width="927" height="7" fill="url(#b61)"/>
<rect x="82" y="382" width="927" height="7" fill="url(#b62)"/>
<rect x="82" y="388" width="927" height="7" fill="url(#b63)"/>
<rect x="82" y="394" width="927" height="7" fill="url(#b64)"/>
<rect x="82" y="400" width="927" height="7" fill="url(#b65)"/>
<rect x="82" y="406" width="927" height="7" fill="url(#b66)"/>
<rect x="82" y="412" width="927" height="7" fill="url(#b67)"/>
<rect x="82" y="418" width="927" height="7" fill="url(#b68)"/>
<rect x="82" y="424" width="927" height="7" fill="url(#b69)"/>
<rect x="82" y="430" width="927" height="7" fill="url(#b70)"/>
<rect x="82" y="436" width="927" height="7" fill="url(#b71)"/>
<rect x="82" y="442" width="927" height="7" fill="url(#b72)"/>
<rect x="82" y="448" width="927" height="7" fill="url(#b73)"/>
<rect x="82" y="454" width="927" height="7" fill="url(#b74)"/>
<rect x="82" y="460" width="927" height="7" fill="url(#b75)"/>
<rect x="82" y="466" width="927" height="7" fill="url(#b76)"/>
<rect x="82" y="472" width="927" height="7" fill="url(#b77)"/>
<rect x="82" y="478" width="927" height="7" fill="url(#b78)"/>
<rect x="82" y="484" width="927" height="7" fill="url(#b79)"/>
<rect x="82" y="490" width="927" height="7" fill="url(#b80)"/>
<rect x="82" y="496" width="927" height="7" fill="url(#b81)"/>
<rect x="82" y="502" width="927" height="7" fill="url(#b82)"/>
<rect x="82" y="508" width="927" height="7" fill="url(#b83)"/>
<rect x="82" y="514" width="927" height="7" fill="url(#b84)"/>
<rect x="82" y="520" width="927" height="7" fill="url(#b85)"/>
<rect x="82" y="526" width="927" height="7" fill="url(#b86)"/>
<rect x="82" y="532" width="927" height="7" fill="url(#b87)"/>
<rect x="82" y="538" width="927" height="7" fill="url(#b88)"/>
<rect x="82" y="544" width="927" height="7" fill="url(#b89)"/>
<rect x="82" y="550" width="927" height="7" fill="url(#b90)"/>
<rect x="82" y="556" width="927" height="7" fill="url(#b91)"/>
<rect x="82" y="562" width="927" height="7" fill="url(#b92)"/>
<rect x="82" y="568" width="927" height="7" fill="url(#b93)"/>
<rect x="82" y="574" width="927" height="7" fill="url(#b94)"/>
<rect x="82" y="580" width="927" height="7" fill="url(#b95)"/>
<rect x="82" y="586" width="927" height="7" fill="url(#b96)"/>
<rect x="82" y="592" width="927" height="7" fill="url(#b97)"/>
<rect x="82" y="598" width="927" height="7" fill="url(#b98)"/>
<rect x="82" y="604" width="927" height="7" fill="url(#b99)"/>
<rect x="82" y="610" width="927" height="7" fill="url(#b100)"/>
<rect x="82" y="616" width="927" height="7" fill="url(#b101)"/>
<rect x="82" y="622" width="927" height="7" fill="url(#b102)"/>
<rect x="82" y="628" width="927" height="7" fill="url(#b103)"/>
<rect x="82" y="634" width="927" height="7" fill="url(#b104)"/>
</g></g>
<rect x="83.8" y="10.5" width="922.5" height="626.7" fill="none" stroke="#000" stroke-opacity="0.08" stroke-width="1"/>
<rect x="83.3" y="10.3" width="1.6" height="4.6" fill="#8c8c8c"/>
<rect x="340.51" y="39.5" width="1.5" height="481.8" fill="url(#gl)"/>
<rect x="491.97" y="39.5" width="1.5" height="481.8" fill="url(#gl)"/>
<rect x="643.43" y="39.5" width="1.5" height="481.8" fill="url(#gl)"/>
<rect x="794.89" y="39.5" width="1.5" height="481.8" fill="url(#gl)"/>
<rect x="946.35" y="39.5" width="1.5" height="481.8" fill="url(#gl)"/>
<rect x="189.80" y="67.70" width="80.00" height="39.20" fill="#5b9bd5" stroke="#ffffff" stroke-width="2.3"/>
<rect x="269.80" y="67.70" width="432.90" height="39.20" fill="#ed7d31" stroke="#ffffff" stroke-width="2.3"/>
<rect x="702.70" y="67.70" width="108.30" height="39.20" fill="#a5a5a5" stroke="#ffffff" stroke-width="2.3"/>
<rect x="811.00" y="67.70" width="2.70" height="39.20" fill="#ffc000" stroke="#ffffff" stroke-width="2.3"/>
<rect x="813.70" y="67.70" width="133.40" height="39.20" fill="#4472c4" stroke="#ffffff" stroke-width="2.3"/>
<text class="ser cat" x="163.9" y="95.3">Pb (t)</text>
<rect x="189.80" y="164.40" width="180.00" height="39.20" fill="#5b9bd5" stroke="#ffffff" stroke-width="2.3"/>
<rect x="369.80" y="164.40" width="357.40" height="39.20" fill="#ed7d31" stroke="#ffffff" stroke-width="2.3"/>
<rect x="727.20" y="164.40" width="80.30" height="39.20" fill="#a5a5a5" stroke="#ffffff" stroke-width="2.3"/>
<rect x="807.50" y="164.40" width="139.60" height="39.20" fill="#4472c4" stroke="#ffffff" stroke-width="2.3"/>
<text class="ser cat" x="163.9" y="192.0">As (t)</text>
<rect x="189.80" y="261.20" width="11.50" height="39.20" fill="#5b9bd5" stroke="#ffffff" stroke-width="2.3"/>
<rect x="201.30" y="261.20" width="5.70" height="39.20" fill="#ed7d31" stroke="#ffffff" stroke-width="2.3"/>
<rect x="207.00" y="261.20" width="470.50" height="39.20" fill="#ffc000" stroke="#ffffff" stroke-width="2.3"/>
<rect x="677.50" y="261.20" width="269.60" height="39.20" fill="#4472c4" stroke="#ffffff" stroke-width="2.3"/>
<text class="ser cat" x="163.9" y="288.8">Cr (t)</text>
<rect x="189.80" y="358.40" width="731.90" height="39.20" fill="#ed7d31" stroke="#ffffff" stroke-width="2.3"/>
<rect x="921.70" y="358.40" width="17.00" height="39.20" fill="#a5a5a5" stroke="#ffffff" stroke-width="2.3"/>
<rect x="938.70" y="358.40" width="8.40" height="39.20" fill="#4472c4" stroke="#ffffff" stroke-width="2.3"/>
<text class="ser cat" x="163.9" y="386.0">Cd (t)</text>
<rect x="189.80" y="454.40" width="397.30" height="39.20" fill="#5b9bd5" stroke="#ffffff" stroke-width="2.3"/>
<rect x="587.10" y="454.40" width="156.20" height="39.20" fill="#ed7d31" stroke="#ffffff" stroke-width="2.3"/>
<rect x="743.30" y="454.40" width="35.25" height="39.20" fill="#a5a5a5" stroke="#ffffff" stroke-width="2.3"/>
<rect x="778.55" y="454.40" width="168.55" height="39.20" fill="#4472c4" stroke="#ffffff" stroke-width="2.3"/>
<text class="ser cat" x="163.9" y="482.0">Hg (t)</text>
<rect x="188.45" y="39" width="1.5" height="483.6" fill="url(#ax)"/>
<rect x="188.45" y="521.2" width="759.5" height="1.4" fill="#929292"/>
<rect x="188.45" y="39" width="5.2" height="1.4" fill="#8c8c8c"/>
<rect x="340.46" y="514.8" width="1.6" height="6.6" fill="#9c9c9c"/>
<rect x="491.92" y="514.8" width="1.6" height="6.6" fill="#9c9c9c"/>
<rect x="643.38" y="514.8" width="1.6" height="6.6" fill="#9c9c9c"/>
<rect x="794.84" y="514.8" width="1.6" height="6.6" fill="#9c9c9c"/>
<rect x="946.30" y="514.8" width="1.6" height="6.6" fill="#9c9c9c"/>
<text class="ser tick" x="189.8" y="561.6">0%</text>
<text class="ser tick" x="341.3" y="561.6">20%</text>
<text class="ser tick" x="492.7" y="561.6">40%</text>
<text class="ser tick" x="644.2" y="561.6">60%</text>
<text class="ser tick" x="795.6" y="561.6">80%</text>
<text class="ser tick" x="947.1" y="561.6">100%</text>
<rect x="292.8" y="576.1" width="568.9" height="41.8" fill="#f2f2f2"/>
<rect x="321.7" y="592.5" width="8.9" height="8.9" fill="#5b9bd5"/>
<text class="ser leg" x="336.2" y="603.3">MRCM</text>
<rect x="433.3" y="592.5" width="8.9" height="8.9" fill="#ed7d31"/>
<text class="ser leg" x="446.7" y="603.3">SPNM</text>
<rect x="534.3" y="592.5" width="8.9" height="8.9" fill="#a5a5a5"/>
<text class="ser leg" x="548.8" y="603.3">MPNFMO</text>
<rect x="672.0" y="592.5" width="8.9" height="8.9" fill="#ffc000"/>
<text class="ser leg" x="686.2" y="603.3">MMP</text>
<rect x="766.3" y="592.5" width="8.9" height="8.9" fill="#4472c4"/>
<text class="ser leg" x="779.7" y="603.3">Others</text>
</svg>
<div class="ttl" style="left:352.3px;top:658.5px;font-size:26px;line-height:50px;font-weight:bold;font-family:'Liberation Serif','Noto Sans CJK SC',sans-serif;">图</div>
<div class="ttl" style="left:385.3px;top:657.5px;font-size:26px;line-height:50px;font-weight:bold;font-family:'Liberation Serif','Noto Sans CJK SC',sans-serif;">1</div>
<div class="ttl" style="left:425.6px;top:658.5px;font-size:26px;line-height:50px;font-weight:bold;font-family:'Liberation Serif','Noto Sans CJK SC',sans-serif;">中国不同行业的重金属排放贡献</div>
<div class="ttl ser" style="left:0.8px;top:707px;font-size:23.5px;line-height:50px;">（其中 </div>
<div class="ttl ser" style="left:78.7px;top:707px;font-size:23.5px;line-height:50px;">MRCM-</div>
<div class="ttl ser" style="left:159.8px;top:707px;font-size:23.5px;line-height:50px;">化工行业，</div>
<div class="ttl ser" style="left:276.25px;top:707px;font-size:23.5px;line-height:50px;">SPNM-</div>
<div class="ttl ser" style="left:347.75px;top:707px;font-size:23.5px;line-height:50px;">有色冶炼，</div>
<div class="ttl ser" style="left:466px;top:707px;font-size:23.5px;line-height:50px;">MPNFMO-</div>
<div class="ttl ser" style="left:576.5px;top:707px;font-size:23.5px;line-height:50px;">有色矿采，</div>
<div class="ttl ser" style="left:692.9px;top:707px;font-size:23.5px;line-height:50px;">MMP-</div>
<div class="ttl ser" style="left:754.4px;top:707px;font-size:23.5px;line-height:50px;">金属制品业，</div>
<div class="ttl ser" style="left:895.3px;top:707px;font-size:23.5px;line-height:50px;letter-spacing:0.25px;">Others-</div>
<div class="ttl ser" style="left:968.4px;top:707px;font-size:23.5px;line-height:50px;">其他行业）</div>
</div></body></html>
